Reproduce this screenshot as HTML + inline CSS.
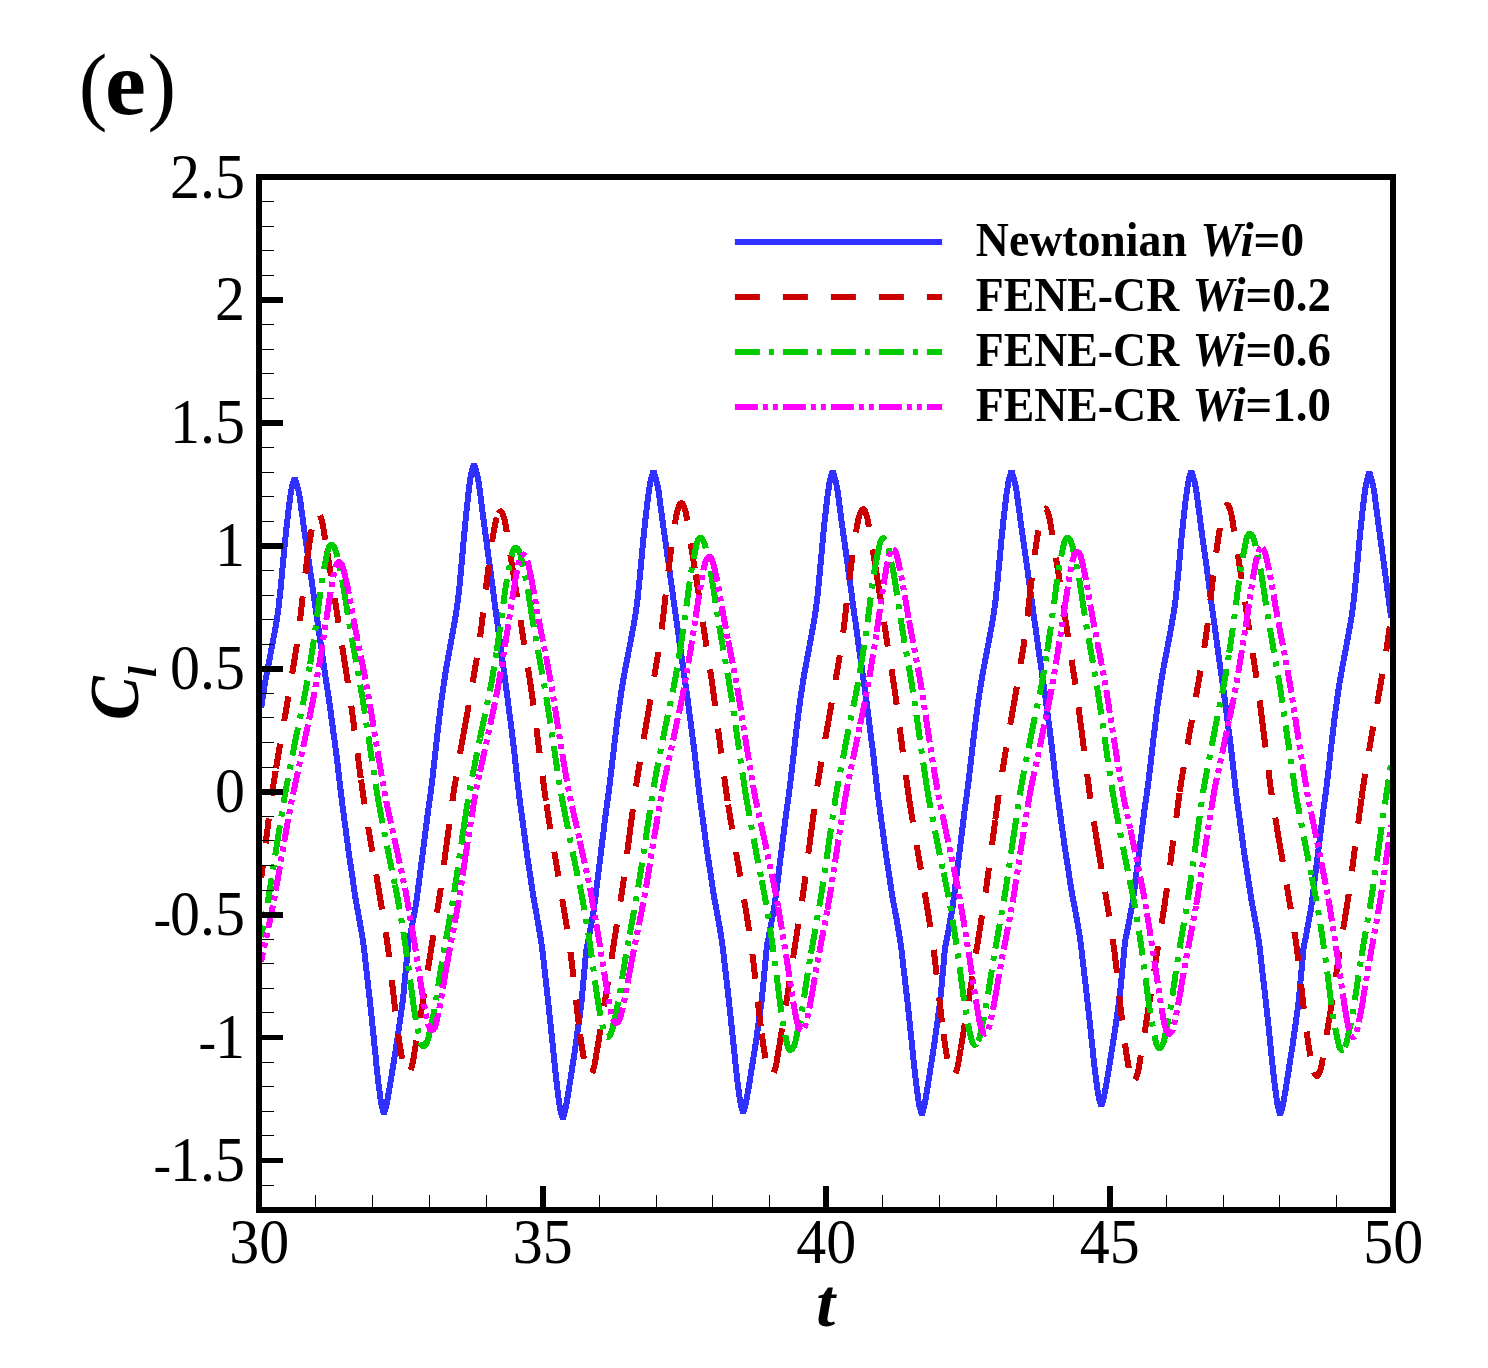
<!DOCTYPE html>
<html lang="en"><head><meta charset="utf-8"><title>(e) Cl vs t</title>
<style>html,body{margin:0;padding:0;background:#fff}svg{display:block}text{font-family:"Liberation Serif","Times New Roman",Times,serif;fill:#000}.tk{font-size:60px}.lg{font-size:47.5px;font-weight:bold}.bi{font-weight:bold;font-style:italic}</style></head><body>
<svg width="1488" height="1368" viewBox="0 0 1488 1368">
<rect width="1488" height="1368" fill="#fff"/>
<clipPath id="c"><rect x="259.2" y="177.1" width="1134.0" height="1032.7"/></clipPath>
<g clip-path="url(#c)" fill="none" stroke-linejoin="round" shape-rendering="crispEdges">
<path d="M261.2,708.1 L261.5,705.8 L262.3,700.2 L263.1,694.7 L264.0,689.4 L264.8,684.4 L265.6,679.6 L266.5,675.1 L267.3,670.7 L268.1,666.4 L269.0,662.2 L269.8,657.9 L270.6,653.6 L271.4,649.2 L272.3,644.8 L273.1,640.4 L273.9,636.0 L274.8,631.5 L275.6,626.9 L276.4,622.1 L277.2,616.9 L278.1,611.0 L278.9,604.5 L279.7,596.9 L280.6,588.7 L281.4,580.3 L282.2,571.5 L283.0,562.7 L283.9,553.8 L284.7,545.2 L285.5,536.8 L286.4,528.8 L287.2,521.4 L288.0,514.3 L288.8,507.5 L289.7,501.1 L290.5,495.3 L291.3,489.9 L292.2,486.0 L293.0,483.3 L293.8,480.6 L294.7,477.9 L295.5,480.6 L296.3,483.3 L297.2,486.0 L298.0,489.1 L298.9,492.6 L299.7,497.2 L300.6,503.3 L301.4,509.6 L302.3,515.6 L303.1,521.7 L303.9,527.7 L304.8,533.7 L305.6,539.5 L306.5,545.2 L307.3,551.0 L308.2,556.7 L309.0,562.5 L309.9,568.3 L310.7,574.1 L311.6,580.1 L312.4,586.0 L313.2,592.0 L314.1,598.0 L314.9,603.9 L315.8,609.9 L316.6,615.7 L317.5,621.5 L318.3,627.3 L319.2,633.2 L320.0,639.0 L320.9,644.8 L321.7,650.6 L322.5,656.4 L323.4,662.2 L324.2,667.9 L325.1,673.7 L325.9,679.4 L326.8,685.1 L327.6,690.8 L328.5,696.5 L329.3,702.2 L330.2,708.2 L331.0,714.4 L331.8,720.7 L332.7,727.0 L333.5,733.3 L334.4,739.5 L335.2,745.8 L336.1,752.3 L336.9,758.9 L337.8,766.0 L338.6,773.2 L339.4,780.4 L340.3,787.5 L341.1,794.1 L341.9,800.5 L342.6,806.5 L343.4,812.1 L344.1,817.7 L344.9,823.5 L345.7,829.3 L346.4,835.1 L347.2,840.9 L348.0,846.7 L348.7,852.4 L349.5,857.8 L350.3,862.8 L351.0,867.9 L351.8,873.0 L352.6,878.1 L353.3,883.4 L354.1,888.7 L354.8,893.9 L355.6,898.9 L356.4,903.4 L357.1,907.5 L357.9,911.6 L358.7,915.8 L359.4,920.1 L360.2,924.5 L361.0,929.0 L361.7,933.5 L362.5,938.1 L363.3,943.2 L364.0,948.7 L364.8,955.0 L365.5,962.1 L366.3,969.2 L367.1,976.0 L367.8,982.7 L368.6,989.5 L369.4,996.4 L370.1,1003.4 L370.9,1010.7 L371.7,1017.9 L372.4,1025.1 L373.2,1032.5 L374.0,1040.0 L374.7,1047.6 L375.5,1055.3 L376.2,1062.9 L377.0,1070.3 L377.8,1077.3 L378.5,1083.7 L379.3,1089.7 L380.1,1095.5 L380.8,1101.0 L381.6,1105.3 L382.4,1108.3 L383.1,1111.0 L383.9,1113.7 L384.7,1111.0 L385.5,1108.3 L386.3,1105.4 L387.1,1101.7 L387.9,1097.3 L388.7,1092.7 L389.5,1088.2 L390.3,1083.4 L391.1,1078.5 L391.9,1073.5 L392.7,1068.5 L393.5,1063.4 L394.3,1058.4 L395.1,1053.5 L395.9,1048.4 L396.7,1043.4 L397.5,1038.2 L398.3,1032.7 L399.1,1027.0 L399.9,1021.4 L400.7,1015.8 L401.5,1010.1 L402.3,1004.4 L403.1,997.8 L403.9,989.9 L404.7,981.6 L405.5,973.3 L406.3,964.9 L407.1,956.1 L407.9,947.4 L408.7,941.9 L409.5,938.3 L410.3,934.7 L411.1,930.7 L411.9,926.5 L412.7,922.0 L413.5,917.5 L414.3,913.4 L415.1,909.5 L415.9,904.8 L416.7,899.2 L417.5,893.2 L418.3,886.9 L419.2,880.6 L420.0,874.4 L420.8,868.1 L421.6,861.8 L422.4,855.6 L423.2,849.3 L424.0,843.0 L424.8,836.8 L425.6,830.6 L426.4,824.3 L427.2,817.9 L428.0,811.4 L428.8,805.6 L429.6,800.1 L430.4,794.5 L431.2,788.7 L432.0,782.5 L432.8,775.8 L433.5,768.7 L434.3,761.6 L435.1,754.5 L435.9,747.3 L436.7,740.2 L437.5,733.2 L438.3,726.4 L439.1,719.6 L439.9,712.9 L440.7,706.4 L441.5,700.3 L442.3,694.6 L443.1,688.9 L443.9,683.3 L444.7,678.1 L445.4,673.1 L446.2,668.3 L447.0,663.8 L447.8,659.4 L448.6,655.0 L449.4,650.8 L450.2,646.4 L451.0,642.0 L451.8,637.6 L452.6,633.1 L453.4,628.6 L454.2,624.2 L455.0,619.6 L455.8,614.9 L456.5,610.0 L457.3,604.5 L458.1,598.5 L458.9,591.7 L459.7,583.9 L460.5,575.5 L461.3,566.9 L462.1,558.0 L462.9,549.1 L463.7,540.1 L464.5,531.4 L465.3,522.9 L466.1,514.9 L466.9,507.4 L467.7,500.2 L468.4,493.4 L469.2,486.9 L470.0,481.0 L470.8,475.6 L471.6,471.7 L472.4,469.0 L473.2,466.2 L474.0,463.5 L474.8,466.3 L475.6,469.1 L476.4,471.9 L477.2,475.0 L478.0,478.7 L478.8,483.4 L479.7,489.7 L480.5,496.1 L481.3,502.4 L482.1,508.6 L482.9,514.8 L483.7,521.0 L484.5,527.0 L485.3,532.9 L486.1,538.8 L486.9,544.8 L487.7,550.7 L488.5,556.7 L489.3,562.7 L490.2,568.8 L491.0,575.0 L491.8,581.1 L492.6,587.3 L493.4,593.4 L494.2,599.5 L495.0,605.6 L495.8,611.6 L496.6,617.5 L497.4,623.5 L498.2,629.5 L499.0,635.6 L499.9,641.5 L500.7,647.5 L501.5,653.5 L502.3,659.4 L503.1,665.3 L503.9,671.2 L504.7,677.1 L505.5,683.0 L506.3,688.8 L507.1,694.7 L507.9,700.9 L508.7,707.3 L509.5,713.8 L510.4,720.3 L511.2,726.7 L512.0,733.1 L512.8,739.7 L513.6,746.3 L514.4,753.2 L515.2,760.5 L516.0,767.9 L516.8,775.3 L517.6,782.6 L518.4,789.5 L519.2,796.0 L520.0,802.2 L520.8,808.0 L521.6,813.8 L522.4,819.7 L523.2,825.7 L524.0,831.7 L524.8,837.7 L525.6,843.7 L526.4,849.6 L527.1,855.1 L527.9,860.3 L528.7,865.5 L529.5,870.8 L530.3,876.1 L531.1,881.5 L531.9,887.0 L532.7,892.3 L533.5,897.5 L534.3,902.1 L535.1,906.3 L535.9,910.6 L536.7,914.9 L537.4,919.3 L538.2,923.9 L539.0,928.5 L539.8,933.1 L540.6,937.9 L541.4,943.1 L542.2,948.8 L543.0,955.3 L543.8,962.7 L544.6,969.9 L545.4,976.9 L546.2,983.9 L547.0,990.9 L547.7,998.0 L548.5,1005.2 L549.3,1012.7 L550.1,1020.1 L550.9,1027.6 L551.7,1035.2 L552.5,1042.9 L553.3,1050.8 L554.1,1058.7 L554.9,1066.5 L555.7,1074.1 L556.5,1081.4 L557.3,1088.0 L558.0,1094.2 L558.8,1100.1 L559.6,1105.8 L560.4,1110.2 L561.2,1113.3 L562.0,1116.1 L562.8,1118.9 L563.6,1116.2 L564.3,1113.5 L565.1,1110.6 L565.9,1107.0 L566.7,1102.5 L567.4,1098.0 L568.2,1093.4 L569.0,1088.7 L569.7,1083.8 L570.5,1078.8 L571.3,1073.8 L572.0,1068.8 L572.8,1063.8 L573.6,1058.9 L574.4,1053.9 L575.1,1048.9 L575.9,1043.7 L576.7,1038.2 L577.4,1032.5 L578.2,1026.9 L579.0,1021.3 L579.8,1015.7 L580.5,1010.0 L581.3,1003.4 L582.1,995.6 L582.8,987.2 L583.6,979.0 L584.4,970.6 L585.2,961.8 L585.9,953.2 L586.7,947.7 L587.5,944.1 L588.2,940.5 L589.0,936.5 L589.8,932.4 L590.5,927.9 L591.3,923.3 L592.1,919.3 L592.9,915.4 L593.6,910.8 L594.4,905.1 L595.2,899.1 L595.9,892.9 L596.7,886.6 L597.5,880.4 L598.3,874.1 L599.0,867.9 L599.8,861.7 L600.6,855.4 L601.3,849.2 L602.1,842.9 L602.9,836.7 L603.7,830.5 L604.4,824.1 L605.2,817.6 L606.0,811.8 L606.7,806.4 L607.5,800.8 L608.3,795.0 L609.1,788.8 L609.9,782.1 L610.7,775.1 L611.6,768.0 L612.4,760.9 L613.3,753.8 L614.1,746.7 L614.9,739.7 L615.8,732.9 L616.6,726.1 L617.4,719.5 L618.3,713.0 L619.1,706.9 L620.0,701.2 L620.8,695.5 L621.6,690.0 L622.5,684.7 L623.3,679.8 L624.2,675.0 L625.0,670.5 L625.8,666.1 L626.7,661.8 L627.5,657.5 L628.3,653.2 L629.2,648.8 L630.0,644.4 L630.9,640.0 L631.7,635.5 L632.5,631.0 L633.4,626.5 L634.2,621.8 L635.1,616.9 L635.9,611.5 L636.7,605.4 L637.6,598.7 L638.4,590.9 L639.3,582.5 L640.1,574.0 L640.9,565.1 L641.8,556.2 L642.6,547.3 L643.4,538.6 L644.3,530.1 L645.1,522.1 L646.0,514.6 L646.8,507.5 L647.6,500.7 L648.5,494.3 L649.3,488.4 L650.2,483.0 L651.0,479.1 L651.8,476.3 L652.7,473.6 L653.5,470.9 L654.3,473.6 L655.2,476.4 L656.0,479.1 L656.8,482.2 L657.6,485.8 L658.5,490.4 L659.3,496.6 L660.1,502.9 L660.9,509.0 L661.8,515.1 L662.6,521.2 L663.4,527.2 L664.2,533.1 L665.1,538.9 L665.9,544.7 L666.7,550.5 L667.5,556.3 L668.4,562.2 L669.2,568.1 L670.0,574.1 L670.8,580.1 L671.7,586.1 L672.5,592.2 L673.3,598.2 L674.1,604.2 L675.0,610.1 L675.8,616.0 L676.6,621.8 L677.5,627.7 L678.3,633.6 L679.1,639.5 L679.9,645.3 L680.8,651.2 L681.6,657.0 L682.4,662.8 L683.2,668.6 L684.1,674.4 L684.9,680.2 L685.7,685.9 L686.5,691.6 L687.4,697.4 L688.2,703.5 L689.0,709.8 L689.8,716.1 L690.7,722.5 L691.5,728.8 L692.3,735.1 L693.1,741.5 L694.0,748.0 L694.8,754.7 L695.6,761.9 L696.4,769.2 L697.3,776.4 L698.1,783.5 L698.9,790.3 L699.7,796.7 L700.5,802.7 L701.3,808.4 L702.1,814.1 L702.9,819.9 L703.7,825.8 L704.5,831.7 L705.2,837.5 L706.0,843.3 L706.8,849.1 L707.6,854.6 L708.4,859.6 L709.2,864.7 L710.0,869.9 L710.8,875.1 L711.6,880.4 L712.4,885.8 L713.1,891.0 L713.9,896.1 L714.7,900.6 L715.5,904.7 L716.3,908.9 L717.1,913.1 L717.9,917.5 L718.7,921.9 L719.5,926.4 L720.3,931.0 L721.0,935.7 L721.8,940.8 L722.6,946.4 L723.4,952.7 L724.2,959.9 L725.0,967.0 L725.8,973.9 L726.6,980.7 L727.4,987.6 L728.2,994.5 L729.0,1001.7 L729.7,1008.9 L730.5,1016.2 L731.3,1023.6 L732.1,1031.0 L732.9,1038.6 L733.7,1046.2 L734.5,1054.0 L735.3,1061.7 L736.1,1069.1 L736.9,1076.2 L737.6,1082.7 L738.4,1088.8 L739.2,1094.6 L740.0,1100.2 L740.8,1104.5 L741.6,1107.5 L742.4,1110.3 L743.2,1113.0 L744.0,1110.3 L744.8,1107.5 L745.6,1104.6 L746.3,1100.9 L747.1,1096.3 L747.9,1091.8 L748.7,1087.2 L749.5,1082.4 L750.3,1077.4 L751.1,1072.4 L751.9,1067.3 L752.7,1062.3 L753.5,1057.3 L754.3,1052.3 L755.1,1047.2 L755.9,1042.1 L756.7,1036.8 L757.4,1031.2 L758.2,1025.5 L759.0,1019.9 L759.8,1014.2 L760.6,1008.5 L761.4,1002.5 L762.2,995.3 L763.0,987.1 L763.8,978.7 L764.6,970.3 L765.4,961.8 L766.2,952.7 L767.0,945.4 L767.8,941.3 L768.5,937.9 L769.3,933.9 L770.1,929.8 L770.9,925.4 L771.7,920.8 L772.5,916.5 L773.3,912.6 L774.1,908.2 L774.9,902.8 L775.7,896.8 L776.5,890.6 L777.3,884.2 L778.1,877.9 L778.9,871.6 L779.6,865.3 L780.4,859.1 L781.2,852.8 L782.0,846.4 L782.8,840.1 L783.6,833.9 L784.4,827.6 L785.2,821.1 L786.0,814.6 L786.8,808.7 L787.6,803.3 L788.4,797.6 L789.2,791.8 L790.0,785.5 L790.8,778.7 L791.6,771.6 L792.4,764.5 L793.3,757.3 L794.1,750.1 L794.9,743.0 L795.7,736.0 L796.5,729.1 L797.4,722.3 L798.2,715.6 L799.0,709.2 L799.8,703.2 L800.6,697.4 L801.5,691.7 L802.3,686.2 L803.1,681.0 L803.9,676.1 L804.7,671.4 L805.6,666.9 L806.4,662.5 L807.2,658.2 L808.0,653.9 L808.9,649.5 L809.7,645.0 L810.5,640.6 L811.3,636.1 L812.1,631.6 L813.0,627.0 L813.8,622.3 L814.6,617.5 L815.4,612.3 L816.2,606.4 L817.1,599.9 L817.9,592.4 L818.7,584.1 L819.5,575.5 L820.3,566.6 L821.2,557.7 L822.0,548.6 L822.8,539.8 L823.6,531.2 L824.4,523.0 L825.3,515.4 L826.1,508.2 L826.9,501.3 L827.7,494.7 L828.6,488.7 L829.4,483.2 L830.2,479.2 L831.0,476.4 L831.8,473.6 L832.7,470.9 L833.5,473.7 L834.3,476.4 L835.1,479.1 L835.9,482.2 L836.7,485.8 L837.5,490.4 L838.4,496.6 L839.2,503.0 L840.0,509.1 L840.8,515.2 L841.6,521.3 L842.4,527.4 L843.2,533.3 L844.1,539.1 L844.9,544.9 L845.7,550.7 L846.5,556.6 L847.3,562.4 L848.1,568.4 L848.9,574.4 L849.8,580.4 L850.6,586.5 L851.4,592.5 L852.2,598.5 L853.0,604.5 L853.8,610.5 L854.6,616.4 L855.5,622.2 L856.3,628.1 L857.1,634.0 L857.9,639.9 L858.7,645.8 L859.5,651.7 L860.3,657.5 L861.2,663.4 L862.0,669.1 L862.8,674.9 L863.6,680.7 L864.4,686.5 L865.2,692.2 L866.0,698.1 L866.9,704.2 L867.7,710.4 L868.5,716.8 L869.3,723.2 L870.1,729.5 L870.9,735.8 L871.7,742.2 L872.6,748.8 L873.4,755.5 L874.2,762.7 L875.0,770.0 L875.8,777.2 L876.6,784.4 L877.4,791.2 L878.2,797.6 L879.0,803.6 L879.8,809.3 L880.6,815.0 L881.4,820.9 L882.2,826.8 L883.0,832.7 L883.8,838.5 L884.6,844.4 L885.4,850.2 L886.2,855.6 L886.9,860.7 L887.7,865.8 L888.5,871.0 L889.3,876.2 L890.1,881.6 L890.9,886.9 L891.7,892.2 L892.5,897.2 L893.3,901.8 L894.1,905.9 L894.9,910.1 L895.7,914.4 L896.5,918.7 L897.3,923.2 L898.0,927.7 L898.8,932.3 L899.6,937.0 L900.4,942.1 L901.2,947.7 L902.0,954.1 L902.8,961.3 L903.6,968.4 L904.4,975.3 L905.2,982.2 L906.0,989.0 L906.8,996.0 L907.6,1003.1 L908.4,1010.4 L909.2,1017.8 L909.9,1025.1 L910.7,1032.6 L911.5,1040.2 L912.3,1047.9 L913.1,1055.7 L913.9,1063.3 L914.7,1070.8 L915.5,1077.9 L916.3,1084.4 L917.1,1090.5 L917.9,1096.3 L918.7,1102.0 L919.5,1106.3 L920.3,1109.3 L921.0,1112.0 L921.8,1114.8 L922.6,1112.1 L923.4,1109.4 L924.2,1106.5 L924.9,1102.8 L925.7,1098.3 L926.5,1093.8 L927.2,1089.2 L928.0,1084.5 L928.8,1079.5 L929.6,1074.5 L930.3,1069.5 L931.1,1064.5 L931.9,1059.5 L932.7,1054.5 L933.4,1049.5 L934.2,1044.5 L935.0,1039.2 L935.7,1033.7 L936.5,1028.0 L937.3,1022.4 L938.1,1016.8 L938.8,1011.1 L939.6,1005.3 L940.4,998.5 L941.2,990.4 L941.9,982.1 L942.7,973.8 L943.5,965.4 L944.2,956.4 L945.0,948.3 L945.8,943.6 L946.6,940.2 L947.3,936.4 L948.1,932.3 L948.9,928.1 L949.7,923.5 L950.4,919.1 L951.2,915.2 L952.0,911.1 L952.7,906.0 L953.5,900.2 L954.3,894.1 L955.1,887.8 L955.8,881.5 L956.6,875.3 L957.4,869.0 L958.2,862.8 L958.9,856.5 L959.7,850.3 L960.5,844.0 L961.2,837.8 L962.0,831.6 L962.8,825.2 L963.6,818.7 L964.3,812.5 L965.1,806.9 L965.9,801.5 L966.7,795.7 L967.4,789.8 L968.3,783.3 L969.1,776.3 L969.9,769.3 L970.8,762.2 L971.6,755.0 L972.4,747.9 L973.2,740.8 L974.1,733.9 L974.9,727.1 L975.7,720.4 L976.6,713.8 L977.4,707.6 L978.2,701.7 L979.1,696.1 L979.9,690.4 L980.7,685.1 L981.6,680.0 L982.4,675.2 L983.2,670.6 L984.1,666.1 L984.9,661.8 L985.7,657.5 L986.6,653.2 L987.4,648.8 L988.2,644.4 L989.1,639.9 L989.9,635.5 L990.7,631.0 L991.6,626.5 L992.4,621.8 L993.2,616.9 L994.0,611.6 L994.9,605.7 L995.7,599.1 L996.5,591.4 L997.4,583.1 L998.2,574.6 L999.0,565.7 L999.9,556.8 L1000.7,547.8 L1001.5,539.1 L1002.4,530.6 L1003.2,522.5 L1004.0,514.9 L1004.9,507.8 L1005.7,500.9 L1006.5,494.4 L1007.4,488.5 L1008.2,483.1 L1009.0,479.1 L1009.9,476.4 L1010.7,473.6 L1011.5,470.9 L1012.3,473.6 L1013.2,476.3 L1014.0,479.0 L1014.8,482.1 L1015.6,485.6 L1016.4,490.2 L1017.2,496.3 L1018.1,502.6 L1018.9,508.6 L1019.7,514.7 L1020.5,520.7 L1021.3,526.6 L1022.2,532.5 L1023.0,538.2 L1023.8,544.0 L1024.6,549.7 L1025.4,555.5 L1026.3,561.3 L1027.1,567.1 L1027.9,573.1 L1028.7,579.0 L1029.5,585.0 L1030.3,590.9 L1031.2,596.9 L1032.0,602.8 L1032.8,608.7 L1033.6,614.5 L1034.4,620.3 L1035.3,626.1 L1036.1,632.0 L1036.9,637.8 L1037.7,643.6 L1038.5,649.4 L1039.3,655.2 L1040.2,660.9 L1041.0,666.6 L1041.8,672.3 L1042.6,678.1 L1043.4,683.8 L1044.3,689.4 L1045.1,695.2 L1045.9,701.2 L1046.7,707.4 L1047.5,713.6 L1048.4,720.0 L1049.2,726.2 L1050.0,732.4 L1050.8,738.8 L1051.6,745.2 L1052.4,751.9 L1053.3,759.0 L1054.1,766.2 L1054.9,773.3 L1055.7,780.4 L1056.5,787.1 L1057.3,793.4 L1058.1,799.4 L1058.9,805.0 L1059.7,810.6 L1060.5,816.4 L1061.3,822.3 L1062.1,828.1 L1062.9,833.8 L1063.7,839.6 L1064.5,845.4 L1065.3,850.7 L1066.1,855.8 L1066.9,860.8 L1067.7,865.9 L1068.5,871.1 L1069.3,876.4 L1070.1,881.6 L1070.9,886.8 L1071.7,891.8 L1072.5,896.3 L1073.3,900.4 L1074.1,904.5 L1074.9,908.7 L1075.7,913.0 L1076.5,917.4 L1077.3,921.9 L1078.1,926.4 L1078.9,931.0 L1079.7,936.1 L1080.5,941.7 L1081.3,947.9 L1082.1,955.1 L1082.9,962.1 L1083.7,968.9 L1084.5,975.7 L1085.3,982.4 L1086.1,989.3 L1086.9,996.4 L1087.7,1003.6 L1088.5,1010.8 L1089.3,1018.0 L1090.1,1025.4 L1090.9,1032.9 L1091.7,1040.5 L1092.5,1048.2 L1093.3,1055.8 L1094.1,1063.2 L1094.9,1070.2 L1095.7,1076.6 L1096.5,1082.6 L1097.3,1088.4 L1098.1,1093.9 L1098.9,1098.2 L1099.7,1101.2 L1100.5,1103.9 L1101.3,1106.6 L1102.1,1103.9 L1102.9,1101.2 L1103.6,1098.4 L1104.4,1094.7 L1105.2,1090.3 L1106.0,1085.8 L1106.8,1081.3 L1107.6,1076.7 L1108.4,1071.8 L1109.2,1066.8 L1110.0,1061.9 L1110.8,1056.9 L1111.5,1052.0 L1112.3,1047.1 L1113.1,1042.1 L1113.9,1037.2 L1114.7,1032.0 L1115.5,1026.5 L1116.3,1020.9 L1117.1,1015.4 L1117.9,1009.8 L1118.7,1004.2 L1119.4,998.5 L1120.2,991.8 L1121.0,983.8 L1121.8,975.6 L1122.6,967.4 L1123.4,959.1 L1124.2,950.2 L1125.0,942.2 L1125.8,937.6 L1126.6,934.2 L1127.3,930.5 L1128.1,926.5 L1128.9,922.3 L1129.7,917.8 L1130.5,913.4 L1131.3,909.5 L1132.1,905.5 L1132.9,900.5 L1133.7,894.7 L1134.5,888.7 L1135.2,882.5 L1136.0,876.3 L1136.8,870.1 L1137.6,864.0 L1138.4,857.8 L1139.2,851.6 L1140.0,845.4 L1140.8,839.2 L1141.6,833.1 L1142.3,827.0 L1143.1,820.7 L1143.9,814.3 L1144.7,808.1 L1145.5,802.7 L1146.3,797.3 L1147.1,791.6 L1147.9,785.7 L1148.7,779.3 L1149.5,772.5 L1150.4,765.5 L1151.2,758.4 L1152.0,751.4 L1152.8,744.4 L1153.6,737.4 L1154.5,730.6 L1155.3,723.9 L1156.1,717.2 L1156.9,710.7 L1157.7,704.6 L1158.6,698.8 L1159.4,693.2 L1160.2,687.7 L1161.0,682.3 L1161.9,677.3 L1162.7,672.6 L1163.5,668.0 L1164.3,663.6 L1165.1,659.3 L1166.0,655.1 L1166.8,650.9 L1167.6,646.5 L1168.4,642.2 L1169.2,637.8 L1170.1,633.4 L1170.9,629.0 L1171.7,624.5 L1172.5,619.8 L1173.3,615.1 L1174.2,609.8 L1175.0,604.0 L1175.8,597.4 L1176.6,589.9 L1177.4,581.7 L1178.3,573.2 L1179.1,564.5 L1179.9,555.7 L1180.7,546.8 L1181.5,538.2 L1182.4,529.8 L1183.2,521.8 L1184.0,514.4 L1184.8,507.3 L1185.6,500.5 L1186.5,494.1 L1187.3,488.3 L1188.1,482.9 L1188.9,479.0 L1189.7,476.3 L1190.6,473.6 L1191.4,470.9 L1192.2,473.7 L1193.0,476.4 L1193.8,479.1 L1194.6,482.2 L1195.4,485.8 L1196.2,490.4 L1197.1,496.6 L1197.9,503.0 L1198.7,509.1 L1199.5,515.2 L1200.3,521.3 L1201.1,527.4 L1201.9,533.3 L1202.7,539.1 L1203.5,544.9 L1204.3,550.7 L1205.2,556.6 L1206.0,562.4 L1206.8,568.4 L1207.6,574.4 L1208.4,580.4 L1209.2,586.5 L1210.0,592.5 L1210.8,598.5 L1211.6,604.5 L1212.4,610.5 L1213.3,616.4 L1214.1,622.2 L1214.9,628.1 L1215.7,634.0 L1216.5,639.9 L1217.3,645.8 L1218.1,651.7 L1218.9,657.5 L1219.7,663.4 L1220.5,669.1 L1221.4,674.9 L1222.2,680.7 L1223.0,686.5 L1223.8,692.2 L1224.6,698.1 L1225.4,704.2 L1226.2,710.4 L1227.0,716.8 L1227.8,723.2 L1228.6,729.5 L1229.5,735.8 L1230.3,742.2 L1231.1,748.8 L1231.9,755.5 L1232.7,762.7 L1233.5,770.0 L1234.3,777.2 L1235.1,784.4 L1235.9,791.2 L1236.7,797.6 L1237.5,803.6 L1238.3,809.3 L1239.1,815.0 L1239.9,820.9 L1240.7,826.8 L1241.5,832.7 L1242.3,838.5 L1243.0,844.4 L1243.8,850.2 L1244.6,855.6 L1245.4,860.7 L1246.2,865.8 L1247.0,871.0 L1247.8,876.2 L1248.6,881.6 L1249.4,886.9 L1250.2,892.2 L1251.0,897.2 L1251.7,901.8 L1252.5,905.9 L1253.3,910.1 L1254.1,914.4 L1254.9,918.7 L1255.7,923.2 L1256.5,927.7 L1257.3,932.3 L1258.1,937.0 L1258.9,942.1 L1259.7,947.7 L1260.4,954.1 L1261.2,961.3 L1262.0,968.4 L1262.8,975.3 L1263.6,982.2 L1264.4,989.0 L1265.2,996.0 L1266.0,1003.1 L1266.8,1010.4 L1267.6,1017.8 L1268.4,1025.1 L1269.2,1032.6 L1269.9,1040.2 L1270.7,1047.9 L1271.5,1055.7 L1272.3,1063.3 L1273.1,1070.8 L1273.9,1077.9 L1274.7,1084.4 L1275.5,1090.5 L1276.3,1096.3 L1277.1,1102.0 L1277.9,1106.3 L1278.6,1109.3 L1279.4,1112.0 L1280.2,1114.8 L1281.0,1112.1 L1281.8,1109.4 L1282.6,1106.5 L1283.3,1102.8 L1284.1,1098.3 L1284.9,1093.8 L1285.7,1089.3 L1286.4,1084.5 L1287.2,1079.6 L1288.0,1074.6 L1288.8,1069.6 L1289.5,1064.6 L1290.3,1059.6 L1291.1,1054.6 L1291.9,1049.6 L1292.7,1044.6 L1293.4,1039.4 L1294.2,1033.8 L1295.0,1028.1 L1295.8,1022.6 L1296.5,1016.9 L1297.3,1011.3 L1298.1,1005.5 L1298.9,998.7 L1299.6,990.6 L1300.4,982.3 L1301.2,974.0 L1302.0,965.6 L1302.8,956.6 L1303.5,948.5 L1304.3,943.8 L1305.1,940.5 L1305.9,936.7 L1306.6,932.6 L1307.4,928.4 L1308.2,923.8 L1309.0,919.4 L1309.7,915.5 L1310.5,911.4 L1311.3,906.4 L1312.1,900.5 L1312.9,894.5 L1313.6,888.2 L1314.4,881.9 L1315.2,875.7 L1316.0,869.4 L1316.7,863.2 L1317.5,856.9 L1318.3,850.7 L1319.1,844.4 L1319.8,838.2 L1320.6,832.0 L1321.4,825.7 L1322.2,819.2 L1323.0,813.0 L1323.7,807.4 L1324.5,802.0 L1325.3,796.2 L1326.1,790.3 L1326.9,783.8 L1327.7,776.9 L1328.5,769.8 L1329.3,762.7 L1330.1,755.6 L1331.0,748.4 L1331.8,741.4 L1332.6,734.5 L1333.4,727.7 L1334.2,721.0 L1335.0,714.4 L1335.9,708.2 L1336.7,702.4 L1337.5,696.7 L1338.3,691.1 L1339.1,685.7 L1339.9,680.7 L1340.8,675.9 L1341.6,671.3 L1342.4,666.8 L1343.2,662.5 L1344.0,658.2 L1344.8,653.9 L1345.7,649.5 L1346.5,645.1 L1347.3,640.7 L1348.1,636.2 L1348.9,631.7 L1349.7,627.2 L1350.6,622.5 L1351.4,617.7 L1352.2,612.4 L1353.0,606.5 L1353.8,599.9 L1354.6,592.2 L1355.4,583.9 L1356.3,575.4 L1357.1,566.6 L1357.9,557.7 L1358.7,548.7 L1359.5,540.0 L1360.3,531.5 L1361.2,523.4 L1362.0,515.8 L1362.8,508.7 L1363.6,501.9 L1364.4,495.4 L1365.2,489.5 L1366.1,484.1 L1366.9,480.1 L1367.7,477.4 L1368.5,474.6 L1369.3,471.9 L1370.1,474.6 L1370.9,477.4 L1371.7,480.0 L1372.5,483.1 L1373.3,486.6 L1374.1,491.1 L1374.9,497.2 L1375.7,503.5 L1376.5,509.6 L1377.3,515.6 L1378.1,521.7 L1378.9,527.6 L1379.7,533.5 L1380.5,539.3 L1381.3,545.0 L1382.1,550.8 L1382.9,556.6 L1383.7,562.4 L1384.5,568.2 L1385.3,574.1 L1386.1,580.1 L1386.9,586.1 L1387.7,592.1 L1388.5,598.0 L1389.3,604.0 L1390.1,609.9 L1390.9,615.7 L1391.2,618.0" stroke="#3030ff" stroke-width="6" stroke-linejoin="bevel"/>
<g stroke="#cc0000" stroke-width="6" stroke-dasharray="25 23">
<path d="M261.2,877.8 L261.6,875.2 L262.4,869.1 L263.1,863.0 L263.9,856.9 L264.7,850.8 L265.4,844.7 L266.2,838.7 L267.0,832.7 L267.8,826.7 L268.5,820.7 L269.3,814.7 L270.1,808.8 L270.8,802.8 L271.6,797.0 L272.4,791.5 L273.2,786.2 L274.0,781.0 L274.8,776.1 L275.6,771.1 L276.3,766.8" stroke-dashoffset="13.2"/>
<path d="M276.0,768.3 L276.4,766.3 L277.2,761.4 L278.0,756.6 L278.8,751.8 L279.6,747.2 L280.4,742.5 L281.2,738.0 L282.0,733.5 L282.8,729.0 L283.6,724.4 L284.4,719.8 L285.2,715.1 L286.0,710.5 L286.8,705.8 L287.6,701.1 L288.4,696.4 L289.2,691.7 L290.0,687.1 L290.7,682.4 L291.5,677.7 L292.3,673.0 L293.1,668.2 L293.3,667.2" stroke-dashoffset="0.0"/>
<path d="M293.1,668.7 L293.1,668.2 L293.9,663.4 L294.7,658.5 L295.5,653.4 L296.3,648.2 L297.1,642.7 L297.9,636.9 L298.7,630.8 L299.5,624.3 L300.3,617.6 L301.1,610.6 L301.9,603.6 L302.7,596.5 L303.5,589.5 L304.3,582.5 L305.1,575.8 L305.9,569.2 L306.7,562.9 L307.5,556.7 L308.1,552.4" stroke-dashoffset="0.0"/>
<path d="M307.9,554.2 L308.3,550.9 L309.1,545.4 L309.9,540.2 L310.7,535.4 L311.5,530.8 L312.3,526.2 L313.1,522.0 L313.9,519.0 L314.7,516.6 L315.5,514.6 L316.3,513.3 L317.1,512.5 L317.9,512.1 L318.7,512.6 L319.5,513.8 L320.3,515.7 L321.1,518.2 L322.0,521.1 L322.8,524.8 L323.6,529.7 L324.4,534.8 L325.2,539.5 L326.0,544.2 L326.8,549.1 L327.3,552.1" stroke-dashoffset="0.0"/>
<path d="M327.1,550.6 L327.6,554.1 L328.4,559.1 L329.2,564.1 L330.0,569.1 L330.8,574.1 L331.7,579.1 L332.5,584.1 L333.3,589.1 L334.1,594.3 L334.9,599.4 L335.7,604.6 L336.5,609.9 L337.3,615.2 L338.1,620.5 L338.9,625.7 L339.7,631.0 L340.5,636.3 L341.4,641.5 L342.2,646.7 L343.0,651.8 L343.8,656.9 L344.2,659.8" stroke-dashoffset="0.0"/>
<path d="M344.0,658.3 L344.6,661.9 L345.4,667.0 L346.2,672.0 L347.0,677.1 L347.8,682.2 L348.6,687.4 L349.4,692.8 L350.2,698.4 L351.0,704.2 L351.9,710.2 L352.7,716.4 L353.5,722.6 L354.3,728.8 L355.1,735.1 L355.9,741.2 L356.7,747.4 L357.5,753.5 L358.3,759.6 L359.1,765.7 L359.9,771.8 L360.7,777.8 L361.2,781.3" stroke-dashoffset="0.0"/>
<path d="M361.0,779.5 L361.6,783.9 L362.4,789.8 L363.2,795.4 L364.0,800.8 L364.8,806.1 L365.6,811.1 L366.4,816.1 L367.2,821.1 L368.0,826.0 L368.8,830.9 L369.6,835.7 L370.4,840.5 L371.2,845.2 L372.0,849.8 L372.8,854.4 L373.6,859.0 L374.4,863.7 L375.2,868.4 L376.0,873.1 L376.8,877.9 L377.5,882.6 L378.2,886.4" stroke-dashoffset="0.0"/>
<path d="M377.9,884.9 L378.3,887.4 L379.1,892.2 L379.9,896.9 L380.7,901.7 L381.5,906.4 L382.3,911.2 L383.1,916.0 L383.9,920.9 L384.7,925.9 L385.5,931.0 L386.3,936.2 L387.1,941.6 L387.9,947.4 L388.7,953.4 L389.5,959.8 L390.3,966.7 L391.1,973.6 L391.9,980.8 L392.7,988.0 L392.8,988.8" stroke-dashoffset="0.0"/>
<path d="M392.6,986.5 L392.7,988.0 L393.5,995.2 L394.3,1002.3 L395.1,1009.2 L395.9,1016.0 L396.7,1022.5 L397.5,1028.8 L398.3,1034.7 L399.1,1040.5 L399.9,1045.8 L400.7,1050.8 L401.5,1055.4 L402.3,1060.1 L403.1,1064.5 L403.9,1067.7 L404.7,1070.1 L405.5,1072.2 L406.3,1073.6 L407.1,1074.4 L407.9,1074.8 L408.7,1074.3 L409.5,1073.2 L410.3,1071.4 L411.1,1069.0 L411.9,1066.3 L412.4,1064.1" stroke-dashoffset="0.0"/>
<path d="M412.1,1065.2 L412.7,1062.9 L413.5,1058.4 L414.3,1053.4 L415.1,1048.9 L415.8,1044.3 L416.6,1039.6 L417.4,1034.8 L418.2,1030.0 L419.0,1025.2 L419.8,1020.3 L420.6,1015.5 L421.4,1010.6 L422.2,1005.8 L423.0,1001.0 L423.8,996.1 L424.5,991.1 L425.3,986.1 L426.1,981.0 L426.9,975.9 L427.7,970.9 L428.5,965.7 L429.3,960.6 L429.6,958.4" stroke-dashoffset="0.0"/>
<path d="M429.4,960.0 L430.1,955.5 L430.9,950.4 L431.7,945.4 L432.5,940.4 L433.3,935.4 L434.0,930.5 L434.8,925.6 L435.6,920.8 L436.4,915.9 L437.2,911.0 L438.0,906.1 L438.8,901.0 L439.6,895.9 L440.4,890.6 L441.2,885.0 L442.0,879.3 L442.8,873.4 L443.5,867.4 L444.3,861.4 L445.1,855.4 L445.9,849.4 L446.2,846.9" stroke-dashoffset="0.0"/>
<path d="M446.0,848.8 L446.7,843.4 L447.5,837.5 L448.3,831.6 L449.1,825.7 L449.9,819.8 L450.7,813.9 L451.5,808.1 L452.3,802.2 L453.0,796.6 L453.8,791.1 L454.6,785.8 L455.5,780.8 L456.3,775.9 L457.1,771.0 L457.9,766.2 L458.7,761.5 L459.5,756.7 L460.3,752.0 L461.1,747.4 L461.9,742.9 L462.7,738.4 L463.5,734.0 L464.3,729.5 L464.6,728.3" stroke-dashoffset="0.0"/>
<path d="M464.3,729.7 L464.3,729.5 L465.1,725.0 L466.0,720.5 L466.8,715.9 L467.6,711.3 L468.4,706.7 L469.2,702.1 L470.0,697.5 L470.8,692.9 L471.6,688.3 L472.4,683.7 L473.2,679.1 L474.0,674.5 L474.8,669.8 L475.6,665.1 L476.5,660.3 L477.3,655.3 L478.1,650.3 L478.9,645.1 L479.7,639.5 L480.2,635.5" stroke-dashoffset="0.0"/>
<path d="M480.0,637.3 L480.5,633.7 L481.3,627.6 L482.1,621.0 L482.9,614.3 L483.7,607.4 L484.5,600.4 L485.3,593.5 L486.1,586.6 L487.0,579.8 L487.8,573.2 L488.6,566.8 L489.4,560.6 L490.2,554.7 L491.0,549.0 L491.8,543.6 L492.6,538.6 L493.4,533.9 L494.2,529.4 L495.0,524.9 L495.8,520.9 L496.6,518.0 L497.5,515.7 L498.3,513.8 L498.8,512.9" stroke-dashoffset="0.0"/>
<path d="M498.5,513.3 L499.1,512.4 L499.9,511.7 L500.7,511.3 L501.5,511.8 L502.3,513.0 L503.1,515.0 L503.9,517.5 L504.7,520.5 L505.5,524.3 L506.3,529.3 L507.1,534.4 L507.9,539.2 L508.7,544.0 L509.5,548.9 L510.3,554.0 L511.1,559.1 L511.9,564.2 L512.7,569.2 L513.5,574.2" stroke-dashoffset="0.0"/>
<path d="M513.2,572.6 L513.5,574.3 L514.3,579.3 L515.1,584.4 L515.9,589.5 L516.7,594.7 L517.5,600.0 L518.3,605.3 L519.1,610.6 L519.9,615.9 L520.7,621.3 L521.5,626.7 L522.3,632.0 L523.1,637.3 L523.9,642.6 L524.7,647.9 L525.5,653.0 L526.4,658.1 L527.2,663.2 L528.0,668.3 L528.8,673.5 L529.6,678.6 L530.1,682.3" stroke-dashoffset="0.0"/>
<path d="M529.9,680.7 L530.4,683.9 L531.2,689.2 L532.0,694.7 L532.8,700.5 L533.6,706.4 L534.4,712.6 L535.2,718.8 L536.0,725.1 L536.8,731.5 L537.6,737.7 L538.4,744.0 L539.2,750.2 L540.0,756.4 L540.8,762.5 L541.6,768.7 L542.4,774.9 L543.2,781.0 L544.0,787.1 L544.8,792.9 L545.6,798.5 L546.4,803.9 L546.8,806.1" stroke-dashoffset="0.0"/>
<path d="M546.5,804.5 L547.2,809.1 L548.0,814.2 L548.8,819.3 L549.6,824.3 L550.4,829.2 L551.2,834.2 L552.1,839.0 L552.9,843.8 L553.7,848.5 L554.5,853.1 L555.3,857.8 L556.1,862.5 L556.9,867.3 L557.7,872.1 L558.5,876.9 L559.3,881.7 L560.1,886.5 L560.9,891.4 L561.7,896.2 L562.5,901.0 L563.3,905.8 L563.4,906.0" stroke-dashoffset="0.0"/>
<path d="M563.1,904.5 L563.3,905.8 L564.1,910.6 L564.9,915.5 L565.8,920.4 L566.6,925.4 L567.4,930.6 L568.2,935.8 L569.0,941.3 L569.8,947.0 L570.6,953.1 L571.4,959.5 L572.2,966.3 L573.0,973.4 L573.8,980.6 L574.6,987.9 L575.4,995.2 L576.2,1002.4 L577.0,1009.4 L577.8,1016.3 L578.6,1023.0 L579.4,1029.3 L580.3,1035.4 L580.3,1036.0" stroke-dashoffset="0.0"/>
<path d="M580.1,1034.1 L580.3,1035.4 L581.1,1041.3 L581.9,1046.8 L582.7,1051.8 L583.5,1056.5 L584.3,1061.2 L585.1,1065.7 L585.9,1069.0 L586.7,1071.5 L587.5,1073.6 L588.3,1075.1 L589.1,1075.9 L589.9,1076.3 L590.7,1075.8 L591.5,1074.7 L592.3,1072.7 L593.1,1070.2 L594.0,1067.4 L594.8,1063.8 L595.6,1059.0 L596.4,1053.9 L596.6,1052.4" stroke-dashoffset="0.0"/>
<path d="M596.4,1053.8 L597.2,1049.2 L598.0,1044.5 L598.8,1039.6 L599.6,1034.6 L600.4,1029.6 L601.2,1024.6 L602.0,1019.5 L602.8,1014.6 L603.6,1009.6 L604.4,1004.5 L605.2,999.5 L606.0,994.4 L606.8,989.3 L607.6,984.1 L608.5,978.8 L609.3,973.5 L610.1,968.2 L610.9,963.0 L611.7,957.7 L612.5,952.4 L613.2,947.4" stroke-dashoffset="0.0"/>
<path d="M613.0,949.0 L613.3,947.1 L614.1,941.9 L614.9,936.7 L615.7,931.7 L616.5,926.6 L617.3,921.6 L618.1,916.5 L618.9,911.5 L619.7,906.4 L620.5,901.2 L621.3,895.9 L622.1,890.5 L623.0,884.8 L623.8,878.9 L624.6,872.9 L625.4,866.7 L626.2,860.5 L627.0,854.2 L627.8,848.0 L628.6,841.8 L629.4,835.7 L629.9,832.1" stroke-dashoffset="0.0"/>
<path d="M629.6,834.0 L630.2,829.6 L631.0,823.5 L631.8,817.4 L632.6,811.3 L633.4,805.2 L634.2,799.1 L635.0,793.3 L635.8,787.6 L636.6,782.2 L637.4,776.9 L638.3,771.9 L639.1,766.9 L639.9,761.9 L640.7,757.0 L641.5,752.0 L642.3,747.2 L643.1,742.4 L643.9,737.7 L644.7,733.1 L645.5,728.5 L646.3,723.9 L646.5,722.6" stroke-dashoffset="0.0"/>
<path d="M646.2,724.1 L646.3,723.9 L647.1,719.2 L647.9,714.5 L648.7,709.8 L649.5,705.0 L650.3,700.3 L651.1,695.5 L651.9,690.7 L652.7,686.0 L653.5,681.2 L654.3,676.5 L655.1,671.7 L655.9,666.9 L656.7,662.0 L657.5,657.1 L658.3,652.0 L659.1,646.9 L659.9,641.6 L660.7,636.0 L661.5,630.1 L662.3,623.9 L663.1,617.3" stroke-dashoffset="0.0"/>
<path d="M662.9,619.4 L663.1,617.3 L663.9,610.4 L664.7,603.3 L665.5,596.1 L666.3,588.9 L667.1,581.7 L667.9,574.7 L668.8,567.8 L669.6,561.1 L670.4,554.6 L671.2,548.4 L672.0,542.5 L672.8,536.8 L673.6,531.5 L674.4,526.6 L675.2,522.0 L676.0,517.3 L676.8,513.0 L677.6,509.9 L678.4,507.5 L678.6,507.0" stroke-dashoffset="0.0"/>
<path d="M678.3,507.7 L678.4,507.5 L679.2,505.5 L680.0,504.1 L680.8,503.3 L681.6,502.9 L682.4,503.4 L683.2,504.6 L684.0,506.6 L684.8,509.1 L685.6,512.1 L686.4,515.8 L687.2,520.9 L688.0,526.0 L688.8,530.8 L689.6,535.6 L690.4,540.6 L691.1,545.6 L691.9,550.7 L692.7,555.8 L693.5,560.9 L694.3,566.0 L695.1,571.1 L695.9,576.0" stroke-dashoffset="0.0"/>
<path d="M695.6,574.4 L695.9,576.2 L696.7,581.3 L697.5,586.5 L698.3,591.8 L699.1,597.1 L699.9,602.5 L700.7,607.8 L701.5,613.2 L702.3,618.6 L703.1,624.0 L703.9,629.4 L704.7,634.7 L705.5,639.9 L706.3,645.1 L707.1,650.3 L707.9,655.4 L708.7,660.6 L709.5,665.7 L710.3,670.9 L711.1,676.1 L711.8,681.4 L712.0,682.8" stroke-dashoffset="0.0"/>
<path d="M711.8,681.1 L711.8,681.4 L712.6,686.9 L713.4,692.6 L714.2,698.5 L715.0,704.6 L715.8,710.9 L716.6,717.2 L717.4,723.6 L718.2,729.9 L719.0,736.2 L719.8,742.4 L720.6,748.7 L721.4,754.9 L722.2,761.1 L723.0,767.3 L723.8,773.4 L724.6,779.6 L725.4,785.6 L726.2,791.3 L727.0,796.9 L727.8,802.2 L728.5,806.3" stroke-dashoffset="0.0"/>
<path d="M728.2,804.7 L728.6,807.3 L729.4,812.4 L730.2,817.5 L731.1,822.5 L731.9,827.5 L732.7,832.4 L733.5,837.2 L734.3,842.0 L735.1,846.7 L735.9,851.4 L736.7,856.1 L737.5,860.8 L738.4,865.6 L739.2,870.5 L740.0,875.3 L740.8,880.1 L741.6,885.0 L742.4,889.8 L743.2,894.7 L744.0,899.5 L744.9,904.3 L745.5,907.9" stroke-dashoffset="0.0"/>
<path d="M745.2,906.4 L745.7,909.2 L746.5,914.1 L747.3,919.1 L748.1,924.2 L748.9,929.4 L749.7,934.7 L750.5,940.2 L751.3,946.0 L752.2,952.2 L753.0,958.8 L753.8,965.7 L754.6,972.8 L755.4,980.1 L756.2,987.4 L757.0,994.7 L757.8,1002.0 L758.7,1009.0 L759.5,1015.9 L760.3,1022.5 L761.1,1028.9 L761.9,1035.0 L762.0,1035.5" stroke-dashoffset="0.0"/>
<path d="M761.7,1033.6 L761.9,1035.0 L762.7,1040.9 L763.5,1046.3 L764.3,1051.3 L765.1,1056.1 L766.0,1060.8 L766.8,1065.3 L767.6,1068.5 L768.4,1071.1 L769.2,1073.1 L770.0,1074.6 L770.8,1075.4 L771.6,1075.8 L772.4,1075.3 L773.2,1074.2 L774.0,1072.3 L774.8,1069.8 L775.6,1067.0 L776.4,1063.5 L777.2,1058.7 L778.0,1053.6 L778.3,1051.6" stroke-dashoffset="0.0"/>
<path d="M778.1,1053.1 L778.8,1049.0 L779.6,1044.3 L780.3,1039.5 L781.1,1034.6 L781.9,1029.6 L782.7,1024.7 L783.5,1019.7 L784.3,1014.8 L785.1,1009.8 L785.9,1004.9 L786.7,999.9 L787.5,994.9 L788.3,989.8 L789.0,984.6 L789.8,979.4 L790.6,974.2 L791.4,969.0 L792.2,963.8 L793.0,958.5 L793.8,953.3 L794.6,948.1 L794.8,947.0" stroke-dashoffset="0.0"/>
<path d="M794.5,948.6 L794.6,948.1 L795.4,942.9 L796.2,937.9 L797.0,932.8 L797.7,927.8 L798.5,922.8 L799.3,917.9 L800.1,912.8 L800.9,907.8 L801.7,902.7 L802.5,897.5 L803.3,892.1 L804.1,886.5 L804.9,880.7 L805.7,874.7 L806.4,868.6 L807.2,862.4 L808.0,856.3 L808.8,850.1 L809.6,844.0 L810.4,838.0 L811.2,832.0" stroke-dashoffset="0.0"/>
<path d="M810.9,833.9 L811.2,831.9 L812.0,825.9 L812.8,819.9 L813.6,813.8 L814.4,807.8 L815.2,801.8 L815.9,796.0 L816.7,790.4 L817.5,785.1 L818.4,779.9 L819.2,774.9 L820.0,769.9 L820.8,765.0 L821.6,760.1 L822.4,755.3 L823.3,750.5 L824.1,745.8 L824.9,741.1 L825.7,736.5 L826.5,732.0 L827.3,727.4 L827.6,725.9" stroke-dashoffset="0.0"/>
<path d="M827.4,727.3 L828.2,722.8 L829.0,718.2 L829.8,713.5 L830.6,708.8 L831.4,704.1 L832.2,699.4 L833.1,694.7 L833.9,689.9 L834.7,685.2 L835.5,680.6 L836.3,675.8 L837.1,671.1 L838.0,666.3 L838.8,661.4 L839.6,656.4 L840.4,651.3 L841.2,646.1 L842.0,640.6 L842.9,634.7 L843.7,628.6 L844.1,625.6" stroke-dashoffset="0.0"/>
<path d="M843.8,627.6 L844.5,622.1 L845.3,615.2 L846.1,608.3 L846.9,601.1 L847.8,594.0 L848.6,586.9 L849.4,580.0 L850.2,573.1 L851.0,566.5 L851.8,560.1 L852.7,554.0 L853.5,548.1 L854.3,542.5 L855.1,537.3 L855.9,532.5 L856.7,527.9 L857.6,523.2 L858.4,519.0 L859.2,516.0 L860.0,513.5 L860.2,513.1" stroke-dashoffset="0.0"/>
<path d="M859.9,513.7 L860.0,513.5 L860.8,511.6 L861.6,510.2 L862.5,509.4 L863.3,509.0 L864.1,509.5 L864.9,510.7 L865.7,512.6 L866.5,515.2 L867.3,518.1 L868.1,521.8 L868.9,526.8 L869.7,531.9 L870.5,536.6 L871.4,541.3 L872.2,546.3 L873.0,551.3 L873.8,556.4 L874.6,561.4 L875.4,566.5 L876.2,571.5 L876.9,575.9" stroke-dashoffset="0.0"/>
<path d="M876.7,574.4 L877.0,576.5 L877.8,581.6 L878.6,586.7 L879.4,591.8 L880.3,597.0 L881.1,602.3 L881.9,607.6 L882.7,612.9 L883.5,618.2 L884.3,623.6 L885.1,628.9 L885.9,634.2 L886.7,639.5 L887.5,644.7 L888.3,649.9 L889.1,655.0 L890.0,660.0 L890.8,665.1 L891.6,670.2 L892.4,675.3 L893.2,680.5 L893.4,681.5" stroke-dashoffset="0.0"/>
<path d="M893.1,679.9 L893.2,680.5 L894.0,685.8 L894.8,691.2 L895.6,696.8 L896.4,702.7 L897.2,708.7 L898.0,715.0 L898.9,721.2 L899.7,727.5 L900.5,733.8 L901.3,740.0 L902.1,746.2 L902.9,752.3 L903.7,758.5 L904.5,764.6 L905.3,770.8 L906.1,776.9 L906.9,783.0 L907.7,788.9 L908.5,794.6 L909.2,799.4" stroke-dashoffset="0.0"/>
<path d="M909.0,797.7 L909.3,800.1 L910.2,805.4 L911.0,810.4 L911.8,815.5 L912.6,820.5 L913.4,825.5 L914.2,830.4 L915.0,835.3 L915.8,840.1 L916.6,844.8 L917.4,849.4 L918.2,854.1 L919.0,858.7 L919.8,863.4 L920.6,868.2 L921.4,873.0 L922.2,877.8 L923.0,882.6 L923.8,887.4 L924.6,892.2 L925.4,897.0 L926.2,901.7 L926.5,903.9" stroke-dashoffset="0.0"/>
<path d="M926.3,902.4 L927.0,906.5 L927.8,911.3 L928.6,916.2 L929.4,921.1 L930.2,926.2 L931.0,931.3 L931.8,936.6 L932.6,942.0 L933.4,947.8 L934.2,953.9 L935.0,960.4 L935.8,967.3 L936.6,974.3 L937.4,981.5 L938.2,988.8 L939.0,996.0 L939.8,1003.2 L940.6,1010.2 L941.4,1017.0 L942.2,1023.6 L943.0,1029.9 L943.8,1035.9 L943.8,1036.0" stroke-dashoffset="0.0"/>
<path d="M943.5,1034.1 L943.8,1035.9 L944.6,1041.7 L945.4,1047.1 L946.2,1052.1 L947.0,1056.8 L947.8,1061.5 L948.6,1065.9 L949.4,1069.1 L950.2,1071.6 L951.0,1073.6 L951.8,1075.1 L952.6,1075.9 L953.4,1076.3 L954.2,1075.8 L955.0,1074.7 L955.8,1072.8 L956.6,1070.3 L957.4,1067.5 L958.2,1063.9 L959.0,1059.1 L959.8,1054.1 L960.6,1049.4 L961.1,1046.9" stroke-dashoffset="0.0"/>
<path d="M960.8,1048.4 L961.4,1044.8 L962.2,1039.9 L963.0,1035.0 L963.8,1030.1 L964.6,1025.1 L965.5,1020.1 L966.3,1015.2 L967.1,1010.2 L967.9,1005.2 L968.7,1000.3 L969.5,995.2 L970.3,990.1 L971.1,985.0 L971.9,979.8 L972.7,974.5 L973.5,969.3 L974.3,964.1 L975.1,958.8 L975.9,953.6 L976.7,948.4 L977.6,943.2 L978.3,938.4" stroke-dashoffset="0.0"/>
<path d="M978.1,940.0 L978.4,938.1 L979.2,933.1 L980.0,928.1 L980.8,923.1 L981.6,918.1 L982.4,913.1 L983.2,908.0 L984.0,902.9 L984.8,897.7 L985.6,892.3 L986.4,886.7 L987.2,880.9 L988.0,874.9 L988.8,868.7 L989.7,862.6 L990.5,856.4 L991.3,850.2 L992.1,844.1 L992.9,838.0 L993.7,832.0 L994.5,825.9 L995.3,819.9 L995.6,817.8" stroke-dashoffset="0.0"/>
<path d="M995.3,819.6 L996.1,813.9 L996.9,807.9 L997.7,801.9 L998.5,796.0 L999.3,790.4 L1000.1,785.0 L1000.9,779.9 L1001.8,774.9 L1002.6,769.9 L1003.4,765.0 L1004.2,760.1 L1005.0,755.2 L1005.8,750.4 L1006.6,745.7 L1007.4,741.0 L1008.2,736.5 L1009.0,731.9 L1009.8,727.3 L1010.6,722.7 L1011.4,718.0 L1012.2,713.4 L1012.9,709.8" stroke-dashoffset="0.0"/>
<path d="M1012.6,711.3 L1013.1,708.7 L1013.9,703.9 L1014.7,699.2 L1015.5,694.5 L1016.3,689.8 L1017.1,685.1 L1017.9,680.4 L1018.7,675.6 L1019.5,670.9 L1020.3,666.1 L1021.1,661.2 L1021.9,656.2 L1022.7,651.1 L1023.6,645.8 L1024.4,640.3 L1025.2,634.5 L1026.0,628.3 L1026.8,621.8 L1027.6,614.9 L1028.4,607.9 L1029.2,600.8 L1029.2,600.5" stroke-dashoffset="0.0"/>
<path d="M1029.0,602.7 L1029.2,600.8 L1030.0,593.7 L1030.8,586.6 L1031.6,579.6 L1032.4,572.7 L1033.2,566.1 L1034.0,559.7 L1034.9,553.6 L1035.7,547.7 L1036.5,542.1 L1037.3,536.8 L1038.1,532.0 L1038.9,527.4 L1039.7,522.8 L1040.5,518.5 L1041.3,515.5 L1042.1,513.0 L1042.9,511.1 L1043.7,509.7 L1044.5,508.9 L1045.3,508.5 L1046.2,509.0 L1047.0,510.2 L1047.4,511.3" stroke-dashoffset="0.0"/>
<path d="M1047.1,510.6 L1047.8,512.3 L1048.6,514.9 L1049.4,518.0 L1050.2,521.9 L1051.0,527.1 L1051.9,532.3 L1052.7,537.1 L1053.5,542.0 L1054.3,547.1 L1055.1,552.3 L1055.9,557.5 L1056.7,562.7 L1057.6,567.9 L1058.4,573.0 L1059.2,578.2 L1060.0,583.4 L1060.8,588.6 L1061.6,594.0 L1062.4,599.3 L1063.3,604.7 L1064.1,610.2 L1064.7,614.1" stroke-dashoffset="0.0"/>
<path d="M1064.4,612.4 L1064.9,615.7 L1065.7,621.1 L1066.5,626.6 L1067.3,632.1 L1068.1,637.5 L1069.0,642.9 L1069.8,648.2 L1070.6,653.5 L1071.4,658.7 L1072.2,663.9 L1073.0,669.1 L1073.8,674.4 L1074.7,679.7 L1075.5,685.1 L1076.3,690.5 L1077.1,696.3 L1077.9,702.2 L1078.7,708.4 L1079.5,714.8 L1080.3,721.2 L1081.2,727.6 L1081.2,728.3" stroke-dashoffset="0.0"/>
<path d="M1081.0,726.3 L1081.2,727.6 L1082.0,734.1 L1082.8,740.5 L1083.6,746.8 L1084.4,753.2 L1085.2,759.5 L1086.0,765.8 L1086.9,772.1 L1087.7,778.4 L1088.5,784.6 L1089.3,790.7 L1090.1,796.6 L1090.9,802.2 L1091.7,807.6 L1092.5,812.8 L1093.3,818.0 L1094.1,823.2 L1094.9,828.3 L1095.7,833.3 L1096.5,838.3 L1097.3,843.2 L1097.7,846.0" stroke-dashoffset="0.0"/>
<path d="M1097.5,844.4 L1098.1,848.1 L1098.9,852.8 L1099.6,857.6 L1100.4,862.4 L1101.2,867.2 L1102.0,872.1 L1102.8,877.0 L1103.6,881.9 L1104.4,886.9 L1105.2,891.8 L1106.0,896.7 L1106.8,901.7 L1107.6,906.6 L1108.4,911.5 L1109.2,916.4 L1110.0,921.5 L1110.8,926.6 L1111.6,931.8 L1112.4,937.1 L1113.2,942.6 L1114.0,948.4 L1114.2,949.9" stroke-dashoffset="0.0"/>
<path d="M1113.9,948.0 L1114.0,948.4 L1114.8,954.5 L1115.6,961.0 L1116.4,967.9 L1117.2,975.1 L1118.0,982.5 L1118.7,989.9 L1119.5,997.3 L1120.3,1004.7 L1121.1,1012.0 L1121.9,1019.0 L1122.7,1025.8 L1123.5,1032.4 L1124.3,1038.7 L1125.1,1044.7 L1125.9,1050.3 L1126.7,1055.5 L1127.5,1060.3 L1128.3,1065.1 L1129.1,1069.7 L1129.9,1073.2 L1130.7,1075.8 L1131.5,1077.9 L1132.3,1079.4 L1133.1,1080.3 L1133.9,1080.7 L1134.7,1080.2 L1135.3,1079.4" stroke-dashoffset="0.0"/>
<path d="M1135.0,1079.7 L1135.4,1079.1 L1136.2,1077.3 L1137.0,1074.9 L1137.8,1072.1 L1138.6,1068.8 L1139.4,1064.2 L1140.2,1059.2 L1140.9,1054.5 L1141.7,1049.9 L1142.5,1045.2 L1143.3,1040.4 L1144.1,1035.5 L1144.9,1030.6 L1145.7,1025.6 L1146.5,1020.7 L1147.1,1016.8" stroke-dashoffset="0.0"/>
<path d="M1146.8,1018.4 L1147.2,1015.8 L1148.0,1010.9 L1148.8,1006.0 L1149.6,1001.1 L1150.4,996.1 L1151.2,991.0 L1152.0,985.9 L1152.8,980.7 L1153.5,975.6 L1154.3,970.4 L1155.1,965.2 L1155.9,960.0 L1156.7,954.8 L1157.5,949.7 L1158.3,944.6 L1159.1,939.6 L1159.8,934.6 L1160.6,929.7 L1161.4,924.7 L1162.2,919.8 L1163.0,914.8 L1163.5,911.3" stroke-dashoffset="0.0"/>
<path d="M1163.3,912.9 L1163.8,909.9 L1164.6,904.8 L1165.3,899.6 L1166.1,894.3 L1166.9,888.8 L1167.7,883.0 L1168.5,877.1 L1169.3,871.1 L1170.1,865.0 L1170.9,858.9 L1171.6,852.8 L1172.4,846.8 L1173.2,840.7 L1174.0,834.7 L1174.8,828.8 L1175.6,822.8 L1176.4,816.8 L1177.2,810.9 L1177.9,804.9 L1178.7,799.1 L1179.5,793.4 L1180.0,790.1" stroke-dashoffset="0.0"/>
<path d="M1179.8,791.8 L1180.3,788.0 L1181.1,782.8 L1181.9,777.8 L1182.7,772.8 L1183.6,767.9 L1184.4,763.1 L1185.2,758.3 L1186.0,753.5 L1186.8,748.7 L1187.6,744.1 L1188.4,739.5 L1189.2,735.0 L1190.0,730.5 L1190.8,726.0 L1191.7,721.4 L1192.5,716.8 L1193.3,712.1 L1194.1,707.5 L1194.9,702.8 L1195.7,698.2 L1196.5,693.7" stroke-dashoffset="0.0"/>
<path d="M1196.2,695.2 L1196.5,693.5 L1197.3,688.8 L1198.1,684.2 L1198.9,679.5 L1199.8,674.9 L1200.6,670.2 L1201.4,665.4 L1202.2,660.6 L1203.0,655.7 L1203.8,650.7 L1204.6,645.5 L1205.4,640.2 L1206.2,634.5 L1207.0,628.5 L1207.9,622.2 L1208.7,615.5 L1209.5,608.7 L1210.3,601.7 L1210.7,598.2" stroke-dashoffset="0.0"/>
<path d="M1210.4,600.3 L1211.1,594.6 L1211.9,587.6 L1212.7,580.6 L1213.5,573.8 L1214.3,567.1 L1215.1,560.6 L1216.0,554.4 L1216.8,548.4 L1217.6,542.7 L1218.4,537.2 L1219.2,532.1 L1220.0,527.4 L1220.8,522.9 L1221.6,518.3 L1222.4,514.3 L1223.2,511.4 L1224.1,509.1 L1224.9,507.2 L1225.7,505.9 L1226.5,505.1 L1227.3,504.7 L1228.1,505.2 L1228.9,506.4 L1229.4,507.7" stroke-dashoffset="0.0"/>
<path d="M1229.1,507.1 L1229.7,508.4 L1230.5,511.0 L1231.3,514.0 L1232.1,517.9 L1232.9,523.0 L1233.6,528.1 L1234.4,532.9 L1235.2,537.7 L1236.0,542.8 L1236.8,547.9 L1237.6,553.0 L1238.4,558.2 L1239.2,563.3 L1240.0,568.4 L1240.8,573.5 L1241.6,578.6 L1242.4,583.8 L1243.2,589.1 L1244.0,594.4 L1244.8,599.7 L1245.5,605.1 L1245.8,607.2" stroke-dashoffset="0.0"/>
<path d="M1245.6,605.5 L1246.3,610.5 L1247.1,616.0 L1247.9,621.4 L1248.7,626.8 L1249.5,632.2 L1250.3,637.5 L1251.1,642.8 L1251.9,648.0 L1252.7,653.2 L1253.5,658.4 L1254.3,663.5 L1255.1,668.7 L1255.9,673.9 L1256.7,679.2 L1257.4,684.6 L1258.2,690.2 L1259.0,696.0 L1259.8,702.1 L1260.6,708.3 L1261.4,714.6 L1262.2,721.0 L1262.7,724.6" stroke-dashoffset="0.0"/>
<path d="M1262.4,722.6 L1263.0,727.4 L1263.8,733.7 L1264.6,740.0 L1265.4,746.3 L1266.2,752.6 L1267.0,758.8 L1267.8,765.1 L1268.6,771.3 L1269.3,777.5 L1270.1,783.7 L1270.9,789.6 L1271.8,795.2 L1272.6,800.7 L1273.4,805.9 L1274.2,811.1 L1275.0,816.2 L1275.9,821.3 L1276.7,826.3 L1277.5,831.3 L1278.3,836.2 L1278.8,838.7" stroke-dashoffset="0.0"/>
<path d="M1278.5,837.2 L1279.2,841.0 L1280.0,845.8 L1280.8,850.5 L1281.6,855.2 L1282.4,860.0 L1283.3,864.8 L1284.1,869.6 L1284.9,874.5 L1285.7,879.4 L1286.5,884.2 L1287.4,889.1 L1288.2,894.0 L1289.0,898.9 L1289.8,903.7 L1290.7,908.6 L1291.5,913.5 L1292.3,918.5 L1293.1,923.6 L1293.9,928.8 L1294.8,934.1 L1295.3,938.0" stroke-dashoffset="0.0"/>
<path d="M1295.1,936.3 L1295.6,939.6 L1296.4,945.4 L1297.2,951.6 L1298.1,958.1 L1298.9,965.0 L1299.7,972.1 L1300.5,979.4 L1301.3,986.8 L1302.2,994.1 L1303.0,1001.5 L1303.8,1008.6 L1304.6,1015.5 L1305.5,1022.2 L1306.3,1028.7 L1307.1,1034.9 L1307.9,1040.8 L1308.7,1046.3 L1309.6,1051.4 L1310.4,1056.2 L1311.2,1061.0 L1312.0,1065.5 L1312.9,1068.8 L1313.7,1071.4 L1314.3,1073.0" stroke-dashoffset="0.0"/>
<path d="M1314.0,1072.3 L1314.5,1073.5 L1315.3,1074.9 L1316.1,1075.8 L1317.0,1076.2 L1317.8,1075.7 L1318.6,1074.6 L1319.4,1072.7 L1320.2,1070.3 L1321.0,1067.4 L1321.8,1064.0 L1322.6,1059.2 L1323.4,1054.2 L1324.2,1049.5 L1325.0,1044.9 L1325.8,1040.1 L1326.6,1035.2 L1327.4,1030.2 L1328.2,1025.3 L1328.5,1022.8" stroke-dashoffset="0.0"/>
<path d="M1328.3,1024.3 L1329.0,1020.3 L1329.8,1015.3 L1330.6,1010.4 L1331.4,1005.5 L1332.2,1000.5 L1333.0,995.5 L1333.8,990.4 L1334.5,985.3 L1335.3,980.1 L1336.1,974.9 L1336.9,969.7 L1337.7,964.4 L1338.5,959.2 L1339.3,954.0 L1340.1,948.8 L1340.9,943.6 L1341.7,938.5 L1342.5,933.4 L1343.3,928.5 L1344.1,923.5 L1344.9,918.5 L1345.2,917.2" stroke-dashoffset="0.0"/>
<path d="M1344.9,918.7 L1344.9,918.5 L1345.7,913.5 L1346.5,908.5 L1347.3,903.4 L1348.1,898.2 L1348.9,892.9 L1349.7,887.4 L1350.5,881.6 L1351.3,875.7 L1352.1,869.6 L1352.9,863.5 L1353.7,857.3 L1354.5,851.2 L1355.3,845.1 L1356.1,839.0 L1356.9,832.9 L1357.7,826.9 L1358.5,820.9 L1359.3,814.9 L1360.1,808.8 L1360.9,802.8 L1361.7,796.9 L1361.8,796.8" stroke-dashoffset="0.0"/>
<path d="M1361.5,798.6 L1361.7,796.9 L1362.5,791.2 L1363.3,785.8 L1364.1,780.5 L1365.0,775.4 L1365.8,770.4 L1366.6,765.5 L1367.4,760.6 L1368.2,755.7 L1369.0,750.9 L1369.8,746.2 L1370.6,741.5 L1371.4,736.9 L1372.2,732.3 L1373.0,727.8 L1373.8,723.2 L1374.7,718.5 L1375.5,713.9 L1376.3,709.2 L1377.1,704.5 L1377.9,699.8 L1378.3,697.1" stroke-dashoffset="0.0"/>
<path d="M1378.1,698.6 L1378.7,695.1 L1379.5,690.4 L1380.3,685.7 L1381.1,681.0 L1381.9,676.3 L1382.7,671.6 L1383.5,666.8 L1384.4,662.0 L1385.2,657.1 L1386.0,652.1 L1386.8,646.9 L1387.6,641.6 L1388.4,636.1 L1389.2,630.2 L1390.0,623.9 L1390.8,617.3 L1391.2,614.1" stroke-dashoffset="0.0"/>
</g>
<g stroke="#00cc00" stroke-width="6" stroke-dasharray="25 9 5 9">
<path d="M261.2,937.2 L261.7,934.5 L262.5,930.0 L263.3,925.5 L264.2,921.0 L265.1,916.4 L265.9,911.8 L266.8,907.1 L267.6,902.3 L268.5,897.5 L269.3,892.5 L270.2,887.4 L271.0,882.1 L271.9,876.8 L272.7,871.3 L273.6,865.8 L274.5,860.3 L275.3,854.8 L276.2,849.3 L276.3,848.5" stroke-dashoffset="13.2"/>
<path d="M276.0,850.1 L276.2,849.3 L277.0,843.8 L277.9,838.4 L278.7,833.0 L279.6,827.6 L280.4,822.2 L281.3,816.8 L282.1,811.4 L283.0,806.1 L283.8,800.9 L284.7,795.9 L285.6,791.3 L286.4,786.8 L287.2,782.6 L288.0,778.4 L288.8,774.3 L289.6,770.2 L290.4,766.0 L291.2,761.9 L292.0,757.7 L292.8,753.5 L293.3,750.8" stroke-dashoffset="0.0"/>
<path d="M293.1,752.1 L293.6,749.4 L294.4,745.3 L295.2,741.2 L296.0,737.3 L296.8,733.3 L297.6,729.5 L298.4,725.6 L299.2,721.7 L300.0,717.9 L300.8,714.0 L301.6,710.2 L302.4,706.3 L303.2,702.4 L304.0,698.6 L304.8,694.6 L305.6,690.4 L306.4,686.0 L307.2,681.5 L308.0,676.8 L308.8,672.0 L309.6,667.1 L310.4,662.7" stroke-dashoffset="0.0"/>
<path d="M310.1,664.2 L310.4,662.1 L311.2,657.1 L312.0,652.0 L312.8,646.7 L313.6,641.4 L314.4,635.8 L315.3,630.1 L316.1,624.2 L316.9,618.2 L317.7,612.2 L318.5,606.1 L319.3,600.0 L320.1,594.1 L320.9,588.3 L321.7,582.9 L322.5,577.8 L323.3,573.1 L324.1,568.8 L324.9,564.6 L325.7,560.5 L326.5,556.7 L327.3,552.9 L327.3,552.9" stroke-dashoffset="0.0"/>
<path d="M327.1,554.0 L327.3,552.9 L328.1,549.4 L328.9,547.2 L329.7,545.9 L330.5,545.0 L331.3,544.6 L332.1,544.9 L332.9,545.5 L333.7,546.5 L334.6,548.0 L335.4,549.9 L336.2,552.3 L337.0,555.9 L337.8,559.8 L338.6,563.3 L339.4,566.8 L340.3,570.4 L341.1,574.2 L341.9,578.2 L342.7,582.6 L343.5,587.2 L344.2,591.6" stroke-dashoffset="0.0"/>
<path d="M344.0,590.1 L344.3,592.1 L345.1,597.3 L346.0,602.5 L346.8,607.8 L347.6,613.0 L348.4,618.2 L349.2,623.2 L350.0,628.1 L350.8,632.9 L351.7,637.5 L352.5,642.0 L353.3,646.5 L354.1,650.9 L354.9,655.2 L355.7,659.6 L356.6,664.1 L357.4,668.6 L358.2,673.1 L359.0,677.7 L359.8,682.3 L360.6,687.0 L361.2,690.4" stroke-dashoffset="0.0"/>
<path d="M361.0,689.0 L361.4,691.7 L362.3,696.6 L363.1,701.6 L363.9,706.8 L364.7,712.1 L365.5,717.5 L366.3,722.9 L367.1,728.4 L368.0,733.9 L368.8,739.3 L369.6,744.7 L370.4,750.1 L371.2,755.5 L372.0,760.9 L372.8,766.2 L373.7,771.6 L374.5,777.0 L375.3,782.2 L376.1,787.4 L376.9,792.5 L377.7,797.3 L378.2,800.0" stroke-dashoffset="0.0"/>
<path d="M377.9,798.6 L378.5,801.8 L379.3,806.1 L380.1,810.2 L380.9,814.3 L381.6,818.4 L382.4,822.5 L383.2,826.6 L384.0,830.8 L384.8,834.9 L385.6,839.0 L386.4,843.1 L387.2,847.1 L388.0,851.1 L388.8,855.0 L389.5,858.9 L390.3,862.8 L391.1,866.6 L391.9,870.4 L392.7,874.2 L393.5,878.0 L394.3,881.9 L395.1,885.7 L395.1,886.0" stroke-dashoffset="0.0"/>
<path d="M394.9,884.8 L395.1,885.7 L395.9,889.5 L396.7,893.4 L397.5,897.4 L398.2,901.6 L399.0,906.0 L399.8,910.5 L400.6,915.2 L401.4,920.0 L402.2,924.9 L403.0,929.8 L403.8,934.8 L404.6,939.9 L405.4,945.1 L406.1,950.5 L406.9,956.0 L407.7,961.7 L408.5,967.5 L409.3,973.5 L410.1,979.5 L410.9,985.6 L411.7,991.6 L412.4,997.0" stroke-dashoffset="0.0"/>
<path d="M412.1,995.1 L412.5,997.4 L413.3,1003.2 L414.0,1008.5 L414.8,1013.4 L415.6,1018.1 L416.4,1022.4 L417.2,1026.5 L418.0,1030.5 L418.8,1034.3 L419.6,1038.0 L420.4,1041.5 L421.2,1043.7 L421.9,1045.0 L422.7,1045.8 L423.5,1046.2 L424.3,1045.9 L425.1,1045.3 L425.9,1044.3 L426.7,1042.8 L427.5,1041.0 L428.3,1038.5 L429.1,1035.0 L429.6,1032.2" stroke-dashoffset="0.0"/>
<path d="M429.4,1033.5 L429.9,1031.1 L430.7,1027.6 L431.5,1024.1 L432.3,1020.5 L433.1,1016.8 L433.9,1012.8 L434.6,1008.5 L435.4,1003.9 L436.2,999.0 L437.0,993.8 L437.8,988.6 L438.6,983.4 L439.4,978.2 L440.2,973.1 L441.0,968.1 L441.8,963.2 L442.6,958.5 L443.4,953.8 L444.2,949.3 L445.0,944.9 L445.8,940.6 L446.2,937.9" stroke-dashoffset="0.0"/>
<path d="M446.0,939.3 L446.6,936.2 L447.4,931.9 L448.1,927.4 L448.9,923.0 L449.7,918.5 L450.5,913.9 L451.3,909.4 L452.1,904.7 L452.9,900.0 L453.7,895.1 L454.5,890.1 L455.3,885.0 L456.1,879.7 L456.9,874.3 L457.7,868.9 L458.5,863.5 L459.3,858.1 L460.1,852.7 L460.9,847.3 L461.7,841.9 L462.4,836.5 L463.2,831.2 L464.0,825.9 L464.6,822.4" stroke-dashoffset="0.0"/>
<path d="M464.3,824.1 L464.8,820.6 L465.6,815.2 L466.4,810.0 L467.2,804.8 L468.0,799.8 L468.8,795.1 L469.6,790.6 L470.4,786.3 L471.2,782.2 L472.0,778.1 L472.8,774.0 L473.6,770.0 L474.5,765.9 L475.3,761.8 L476.1,757.7 L476.9,753.6 L477.7,749.5 L478.5,745.5 L479.3,741.5 L480.1,737.6 L480.2,737.0" stroke-dashoffset="0.0"/>
<path d="M480.0,738.2 L480.1,737.6 L480.9,733.8 L481.7,729.9 L482.5,726.1 L483.4,722.3 L484.2,718.5 L485.0,714.7 L485.8,711.0 L486.6,707.2 L487.4,703.3 L488.2,699.5 L489.0,695.5 L489.8,691.3 L490.6,687.0 L491.5,682.5 L492.3,677.8 L493.1,673.1 L493.9,668.2 L494.7,663.3 L495.5,658.3 L496.3,653.3 L496.9,649.7" stroke-dashoffset="0.0"/>
<path d="M496.6,651.3 L497.1,648.1 L497.9,642.8 L498.7,637.2 L499.6,631.6 L500.4,625.8 L501.2,619.9 L502.0,613.9 L502.8,607.9 L503.6,601.9 L504.4,596.1 L505.2,590.4 L506.0,585.1 L506.8,580.2 L507.7,575.6 L508.5,571.3 L509.3,567.2 L510.1,563.2 L510.9,559.4 L511.7,555.7 L512.5,552.3 L513.3,550.1 L513.5,549.8" stroke-dashoffset="0.0"/>
<path d="M513.2,550.3 L513.3,550.1 L514.1,548.8 L514.9,548.0 L515.8,547.6 L516.6,547.9 L517.4,548.5 L518.2,549.5 L519.0,551.0 L519.8,552.8 L520.6,555.3 L521.4,558.9 L522.2,562.7 L523.0,566.1 L523.8,569.6 L524.6,573.2 L525.4,576.9 L526.2,580.9 L527.0,585.2 L527.8,589.8 L528.6,594.7 L529.4,599.8 L530.1,604.2" stroke-dashoffset="0.0"/>
<path d="M529.9,602.6 L530.2,605.0 L531.0,610.2 L531.8,615.3 L532.7,620.3 L533.5,625.3 L534.3,630.1 L535.1,634.7 L535.9,639.3 L536.7,643.7 L537.5,648.1 L538.3,652.4 L539.1,656.7 L539.9,661.0 L540.7,665.4 L541.5,669.9 L542.3,674.3 L543.1,678.8 L543.9,683.4 L544.7,688.0 L545.5,692.8 L546.3,697.6 L546.8,700.2" stroke-dashoffset="0.0"/>
<path d="M546.5,698.7 L547.1,702.6 L547.9,707.8 L548.7,713.0 L549.6,718.4 L550.4,723.7 L551.2,729.1 L552.0,734.5 L552.8,739.8 L553.6,745.2 L554.4,750.5 L555.2,755.8 L556.0,761.1 L556.8,766.3 L557.6,771.6 L558.4,776.9 L559.2,782.0 L560.0,787.1 L560.8,791.9 L561.6,796.5 L562.4,800.8 L563.2,805.0 L563.4,805.7" stroke-dashoffset="0.0"/>
<path d="M563.1,804.5 L563.2,805.0 L564.0,809.0 L564.8,813.0 L565.6,817.1 L566.4,821.1 L567.2,825.2 L568.0,829.3 L568.8,833.3 L569.6,837.4 L570.4,841.4 L571.2,845.3 L572.0,849.2 L572.8,853.0 L573.6,856.8 L574.4,860.6 L575.2,864.4 L576.0,868.1 L576.8,871.9 L577.6,875.7 L578.4,879.4 L579.3,883.2 L580.0,886.7" stroke-dashoffset="0.0"/>
<path d="M579.8,885.6 L580.1,887.0 L580.9,890.9 L581.7,895.0 L582.5,899.2 L583.3,903.7 L584.1,908.3 L584.9,912.9 L585.7,917.7 L586.5,922.5 L587.3,927.5 L588.1,932.5 L588.9,937.6 L589.7,942.8 L590.5,948.2 L591.3,953.8 L592.1,959.6 L592.9,965.4 L593.7,971.3 L594.5,977.3 L595.3,983.2 L596.1,989.0 L596.6,992.8" stroke-dashoffset="0.0"/>
<path d="M596.4,991.1 L596.9,994.7 L597.7,999.9 L598.5,1004.9 L599.3,1009.5 L600.1,1013.7 L600.9,1017.8 L601.7,1021.7 L602.5,1025.5 L603.3,1029.2 L604.1,1032.6 L604.9,1034.8 L605.7,1036.1 L606.5,1036.9 L607.3,1037.3 L608.1,1037.0 L608.9,1036.4 L609.8,1035.4 L610.6,1033.9 L611.4,1032.0 L612.2,1029.6 L613.0,1026.1 L613.2,1025.0" stroke-dashoffset="0.0"/>
<path d="M613.0,1026.2 L613.0,1026.1 L613.8,1022.2 L614.7,1018.7 L615.5,1015.2 L616.3,1011.6 L617.1,1007.8 L617.9,1003.8 L618.8,999.5 L619.6,994.9 L620.4,990.0 L621.2,984.8 L622.0,979.6 L622.8,974.3 L623.7,969.1 L624.5,964.0 L625.3,959.0 L626.1,954.1 L626.9,949.4 L627.8,944.8 L628.6,940.3 L629.4,935.8 L629.9,933.3" stroke-dashoffset="0.0"/>
<path d="M629.6,934.6 L630.2,931.5 L631.0,927.1 L631.8,922.7 L632.7,918.3 L633.5,913.8 L634.3,909.3 L635.1,904.8 L635.9,900.2 L636.8,895.5 L637.6,890.8 L638.4,885.9 L639.2,880.9 L640.0,875.7 L640.9,870.5 L641.7,865.1 L642.5,859.7 L643.3,854.2 L644.1,848.8 L644.9,843.4 L645.8,838.0 L646.5,833.1" stroke-dashoffset="0.0"/>
<path d="M646.2,834.7 L646.6,832.6 L647.4,827.2 L648.2,821.9 L649.0,816.5 L649.9,811.2 L650.7,805.9 L651.5,800.6 L652.3,795.4 L653.1,790.4 L653.9,785.6 L654.7,781.2 L655.5,776.9 L656.3,772.7 L657.1,768.7 L657.9,764.6 L658.7,760.5 L659.5,756.4 L660.3,752.3 L661.1,748.2 L661.9,744.1 L662.7,740.0 L663.1,738.0" stroke-dashoffset="0.0"/>
<path d="M662.9,739.3 L663.5,736.0 L664.3,732.0 L665.1,728.1 L665.9,724.2 L666.7,720.4 L667.5,716.6 L668.3,712.8 L669.1,709.0 L669.9,705.2 L670.7,701.4 L671.5,697.6 L672.3,693.7 L673.1,689.9 L673.9,685.9 L674.7,681.7 L675.5,677.4 L676.3,672.8 L677.1,668.2 L677.9,663.4 L678.7,658.6 L679.5,653.7 L679.8,652.2" stroke-dashoffset="0.0"/>
<path d="M679.5,653.8 L679.5,653.7 L680.3,648.7 L681.1,643.6 L681.9,638.4 L682.7,633.0 L683.5,627.5 L684.3,621.8 L685.1,616.0 L685.9,610.1 L686.7,604.1 L687.5,598.1 L688.3,592.1 L689.1,586.3 L689.9,580.6 L690.7,575.3 L691.5,570.3 L692.3,565.7 L693.1,561.4 L693.9,557.3 L694.7,553.3 L695.5,549.5 L695.9,547.8" stroke-dashoffset="0.0"/>
<path d="M695.6,548.9 L696.3,545.8 L697.1,542.4 L697.9,540.2 L698.7,538.9 L699.5,538.1 L700.3,537.7 L701.1,538.0 L702.0,538.7 L702.8,539.8 L703.6,541.4 L704.4,543.4 L705.2,546.1 L706.1,550.0 L706.9,554.0 L707.7,557.7 L708.5,561.4 L709.4,565.2 L710.2,569.2 L711.0,573.6 L711.8,578.2 L712.0,579.6" stroke-dashoffset="0.0"/>
<path d="M711.8,578.1 L711.8,578.2 L712.6,583.2 L713.5,588.5 L714.3,593.9 L715.1,599.5 L715.9,605.0 L716.8,610.4 L717.6,615.8 L718.4,620.9 L719.2,626.0 L720.0,630.9 L720.9,635.7 L721.7,640.4 L722.5,645.0 L723.3,649.6 L724.2,654.2 L725.0,658.8 L725.8,663.5 L726.6,668.3 L727.4,673.1 L728.3,677.9 L728.5,679.0" stroke-dashoffset="0.0"/>
<path d="M728.2,677.5 L728.3,677.9 L729.1,682.8 L729.9,687.8 L730.7,692.9 L731.6,698.2 L732.4,703.6 L733.2,709.2 L734.0,714.9 L734.8,720.6 L735.7,726.3 L736.5,732.0 L737.3,737.7 L738.1,743.4 L739.0,749.1 L739.8,754.7 L740.6,760.4 L741.4,766.0 L742.2,771.6 L743.1,777.2 L743.9,782.7 L744.7,788.1 L745.5,792.9" stroke-dashoffset="0.0"/>
<path d="M745.2,791.3 L745.5,793.3 L746.3,798.1 L747.1,802.7 L747.9,807.2 L748.7,811.4 L749.5,815.8 L750.2,820.1 L751.0,824.4 L751.8,828.7 L752.6,833.0 L753.4,837.3 L754.2,841.6 L755.0,845.9 L755.8,850.1 L756.5,854.2 L757.3,858.3 L758.1,862.3 L758.9,866.3 L759.7,870.3 L760.5,874.4 L761.3,878.4 L761.9,881.5" stroke-dashoffset="0.0"/>
<path d="M761.6,880.2 L762.1,882.4 L762.8,886.4 L763.6,890.4 L764.4,894.5 L765.2,898.7 L766.0,903.1 L766.8,907.8 L767.6,912.6 L768.4,917.5 L769.2,922.5 L769.9,927.7 L770.7,932.9 L771.5,938.1 L772.3,943.5 L773.1,949.1 L773.9,954.8 L774.7,960.7 L775.5,966.7 L776.2,972.9 L777.0,979.2 L777.8,985.5 L778.3,989.5" stroke-dashoffset="0.0"/>
<path d="M778.1,987.5 L778.6,991.8 L779.4,998.0 L780.2,1004.1 L781.0,1009.8 L781.8,1015.2 L782.5,1020.1 L783.3,1024.7 L784.1,1029.1 L784.9,1033.3 L785.7,1037.4 L786.5,1041.2 L787.3,1044.9 L788.1,1047.4 L788.9,1048.8 L789.6,1049.7 L790.4,1050.1 L791.2,1049.8 L792.0,1049.2 L792.8,1048.2 L793.6,1046.7 L794.4,1044.8 L794.8,1043.9" stroke-dashoffset="0.0"/>
<path d="M794.5,1044.6 L795.2,1042.4 L796.0,1038.8 L796.8,1034.9 L797.6,1031.3 L798.4,1027.8 L799.2,1024.1 L800.0,1020.3 L800.8,1016.2 L801.6,1011.9 L802.5,1007.3 L803.3,1002.3 L804.1,997.1 L804.9,991.8 L805.7,986.5 L806.5,981.2 L807.3,976.0 L808.1,970.9 L808.9,965.9 L809.7,961.0 L810.5,956.3 L811.2,952.2" stroke-dashoffset="0.0"/>
<path d="M810.9,953.6 L811.3,951.7 L812.1,947.2 L812.9,942.7 L813.7,938.3 L814.5,933.9 L815.3,929.4 L816.1,924.9 L816.9,920.3 L817.7,915.7 L818.5,911.0 L819.3,906.3 L820.1,901.5 L820.9,896.6 L821.7,891.6 L822.5,886.4 L823.3,881.1 L824.1,875.6 L824.9,870.1 L825.7,864.6 L826.5,859.1 L827.3,853.6 L827.6,851.4" stroke-dashoffset="0.0"/>
<path d="M827.4,853.2 L828.1,848.1 L828.9,842.6 L829.7,837.2 L830.5,831.7 L831.3,826.3 L832.1,820.9 L832.9,815.5 L833.7,810.1 L834.5,804.8 L835.3,799.6 L836.1,794.6 L836.9,789.9 L837.7,785.5 L838.5,781.2 L839.3,777.1 L840.1,772.9 L840.9,768.8 L841.7,764.6 L842.5,760.4 L843.3,756.3 L844.1,752.4" stroke-dashoffset="0.0"/>
<path d="M843.8,753.7 L844.1,752.1 L844.9,747.9 L845.7,743.8 L846.5,739.7 L847.3,735.7 L848.1,731.8 L848.9,727.9 L849.7,724.0 L850.5,720.1 L851.3,716.3 L852.1,712.4 L852.9,708.5 L853.7,704.7 L854.5,700.8 L855.3,696.9 L856.1,693.0 L856.9,688.8 L857.7,684.5 L858.5,680.1 L859.3,675.4 L860.1,670.7 L860.5,668.2" stroke-dashoffset="0.0"/>
<path d="M860.2,669.7 L860.9,665.8 L861.7,660.9 L862.5,655.9 L863.3,650.8 L864.1,645.6 L864.9,640.3 L865.7,634.8 L866.5,629.2 L867.3,623.4 L868.1,617.5 L868.9,611.4 L869.7,605.4 L870.4,599.2 L871.2,593.2 L872.0,587.2 L872.8,581.5 L873.6,576.2 L874.4,571.2 L875.2,566.5 L876.0,562.2 L876.8,558.0 L876.9,557.6" stroke-dashoffset="0.0"/>
<path d="M876.7,558.9 L876.8,558.0 L877.6,554.0 L878.4,550.1 L879.2,546.4 L880.0,542.9 L880.8,540.7 L881.6,539.5 L882.4,538.6 L883.2,538.2 L884.0,538.5 L884.8,539.1 L885.6,540.2 L886.4,541.7 L887.2,543.6 L888.0,546.1 L888.8,549.8 L889.5,553.8 L890.3,557.4 L891.1,560.9 L891.9,564.7 L892.7,568.5 L893.4,571.9" stroke-dashoffset="0.0"/>
<path d="M893.1,570.6 L893.5,572.7 L894.3,577.1 L895.1,581.8 L895.9,586.9 L896.6,592.2 L897.4,597.5 L898.2,603.0 L899.0,608.2 L899.8,613.5 L900.6,618.6 L901.4,623.5 L902.2,628.4 L903.0,633.1 L903.8,637.7 L904.5,642.2 L905.3,646.6 L906.1,651.1 L906.9,655.6 L907.7,660.1 L908.5,664.7 L909.2,669.1" stroke-dashoffset="0.0"/>
<path d="M909.0,667.6 L909.3,669.3 L910.1,674.0 L910.9,678.7 L911.7,683.5 L912.4,688.4 L913.2,693.4 L914.0,698.6 L914.8,703.9 L915.6,709.4 L916.4,714.9 L917.2,720.4 L918.0,726.0 L918.8,731.6 L919.6,737.1 L920.3,742.6 L921.1,748.1 L921.9,753.6 L922.7,759.1 L923.5,764.5 L924.3,770.0 L925.1,775.4 L925.9,780.8 L926.5,785.0" stroke-dashoffset="0.0"/>
<path d="M926.3,783.4 L926.7,786.0 L927.5,791.0 L928.3,795.7 L929.1,800.2 L929.9,804.5 L930.7,808.7 L931.5,812.9 L932.4,817.0 L933.2,821.2 L934.0,825.4 L934.8,829.6 L935.6,833.8 L936.4,838.0 L937.2,842.2 L938.1,846.3 L938.9,850.3 L939.7,854.2 L940.5,858.2 L941.3,862.1 L942.1,866.0 L942.9,869.9 L943.8,873.8 L943.8,873.9" stroke-dashoffset="0.0"/>
<path d="M943.5,872.7 L943.8,873.8 L944.6,877.6 L945.4,881.5 L946.2,885.4 L947.0,889.4 L947.8,893.4 L948.7,897.6 L949.5,902.0 L950.3,906.6 L951.1,911.4 L951.9,916.2 L952.7,921.1 L953.5,926.2 L954.4,931.2 L955.2,936.4 L956.0,941.7 L956.8,947.1 L957.6,952.7 L958.4,958.5 L959.2,964.5 L960.1,970.5 L960.9,976.6 L961.1,977.9" stroke-dashoffset="0.0"/>
<path d="M960.8,976.1 L960.9,976.6 L961.7,982.8 L962.5,988.9 L963.3,994.9 L964.1,1000.8 L965.0,1006.2 L965.8,1011.3 L966.6,1016.1 L967.4,1020.5 L968.2,1024.7 L969.0,1028.8 L969.8,1032.7 L970.7,1036.5 L971.5,1040.0 L972.3,1042.3 L973.1,1043.6 L973.9,1044.5 L974.7,1044.9 L975.5,1044.6 L976.3,1044.0 L977.1,1043.0 L978.0,1041.5 L978.3,1040.6" stroke-dashoffset="0.0"/>
<path d="M978.1,1041.2 L978.8,1039.6 L979.6,1037.1 L980.4,1033.5 L981.2,1029.5 L982.0,1026.0 L982.8,1022.5 L983.6,1018.8 L984.4,1015.0 L985.2,1010.9 L986.0,1006.5 L986.8,1001.9 L987.6,996.9 L988.4,991.6 L989.2,986.3 L990.1,981.0 L990.9,975.7 L991.7,970.5 L992.5,965.4 L993.3,960.5 L994.1,955.6 L994.9,950.9 L995.6,947.0" stroke-dashoffset="0.0"/>
<path d="M995.3,948.5 L995.7,946.4 L996.5,941.9 L997.3,937.5 L998.1,933.0 L998.9,928.6 L999.7,924.1 L1000.5,919.6 L1001.3,915.0 L1002.2,910.4 L1003.0,905.7 L1003.8,900.9 L1004.6,896.1 L1005.4,891.2 L1006.2,886.1 L1007.0,880.9 L1007.8,875.5 L1008.6,870.1 L1009.4,864.6 L1010.2,859.0 L1011.0,853.5 L1011.8,848.0 L1012.6,842.5 L1012.9,841.1" stroke-dashoffset="0.0"/>
<path d="M1012.6,842.8 L1012.6,842.5 L1013.4,837.1 L1014.3,831.6 L1015.1,826.2 L1015.9,820.8 L1016.7,815.4 L1017.5,809.9 L1018.3,804.6 L1019.1,799.3 L1019.9,794.2 L1020.7,789.4 L1021.5,784.9 L1022.3,780.5 L1023.1,776.3 L1023.9,772.2 L1024.7,768.0 L1025.5,763.9 L1026.3,759.7 L1027.2,755.5 L1028.0,751.4 L1028.8,747.2 L1029.6,743.1 L1030.1,740.3" stroke-dashoffset="0.0"/>
<path d="M1029.9,741.6 L1030.4,739.0 L1031.2,734.9 L1032.0,731.0 L1032.8,727.1 L1033.6,723.2 L1034.4,719.3 L1035.2,715.5 L1036.0,711.6 L1036.8,707.7 L1037.6,703.9 L1038.4,700.0 L1039.2,696.1 L1040.1,692.2 L1040.9,688.1 L1041.7,683.9 L1042.5,679.5 L1043.3,674.9 L1044.1,670.1 L1044.9,665.3 L1045.7,660.4 L1046.5,655.4 L1047.3,650.4 L1047.4,649.9" stroke-dashoffset="0.0"/>
<path d="M1047.1,651.4 L1047.3,650.4 L1048.1,645.2 L1048.9,639.9 L1049.7,634.5 L1050.5,628.9 L1051.3,623.1 L1052.1,617.2 L1052.9,611.2 L1053.8,605.1 L1054.6,599.0 L1055.4,593.0 L1056.2,587.0 L1057.0,581.2 L1057.8,575.9 L1058.6,570.8 L1059.4,566.1 L1060.2,561.8 L1061.0,557.6 L1061.8,553.6 L1062.6,549.7 L1063.4,546.0 L1064.2,542.5 L1064.7,541.3" stroke-dashoffset="0.0"/>
<path d="M1064.4,542.0 L1065.0,540.3 L1065.8,539.0 L1066.7,538.1 L1067.5,537.7 L1068.3,538.0 L1069.1,538.6 L1069.9,539.7 L1070.7,541.2 L1071.5,543.1 L1072.3,545.5 L1073.1,549.2 L1073.9,553.2 L1074.7,556.7 L1075.5,560.3 L1076.3,564.0 L1077.1,567.8 L1077.9,571.9 L1078.7,576.4 L1079.5,581.0 L1080.3,586.1 L1081.1,591.3 L1081.2,592.5" stroke-dashoffset="0.0"/>
<path d="M1081.0,590.8 L1081.1,591.3 L1081.9,596.7 L1082.7,602.1 L1083.5,607.4 L1084.3,612.6 L1085.1,617.7 L1085.9,622.7 L1086.7,627.6 L1087.5,632.3 L1088.3,636.9 L1089.1,641.4 L1089.9,645.9 L1090.7,650.3 L1091.5,654.8 L1092.3,659.3 L1093.1,663.9 L1093.9,668.5 L1094.7,673.1 L1095.5,677.8 L1096.3,682.6 L1097.1,687.5 L1097.7,691.3" stroke-dashoffset="0.0"/>
<path d="M1097.5,689.7 L1097.9,692.4 L1098.7,697.6 L1099.5,702.8 L1100.3,708.2 L1101.1,713.7 L1101.9,719.2 L1102.7,724.8 L1103.5,730.4 L1104.3,735.9 L1105.1,741.4 L1105.9,746.9 L1106.7,752.4 L1107.5,757.9 L1108.3,763.3 L1109.1,768.8 L1109.9,774.2 L1110.7,779.6 L1111.5,784.9 L1112.3,790.1 L1113.1,794.9 L1113.9,799.5 L1114.2,800.9" stroke-dashoffset="0.0"/>
<path d="M1113.9,799.5 L1114.7,803.9 L1115.5,808.1 L1116.3,812.2 L1117.1,816.4 L1117.9,820.6 L1118.7,824.8 L1119.5,829.0 L1120.3,833.2 L1121.1,837.4 L1121.9,841.5 L1122.7,845.7 L1123.5,849.7 L1124.3,853.7 L1125.1,857.7 L1125.9,861.6 L1126.7,865.5 L1127.5,869.3 L1128.3,873.2 L1129.1,877.1 L1129.9,881.0 L1130.6,884.7" stroke-dashoffset="0.0"/>
<path d="M1130.4,883.5 L1130.7,884.9 L1131.5,888.8 L1132.3,892.8 L1133.1,896.8 L1133.9,901.1 L1134.7,905.6 L1135.5,910.2 L1136.3,915.0 L1137.1,919.8 L1137.9,924.8 L1138.7,929.8 L1139.5,934.9 L1140.3,940.1 L1141.1,945.4 L1141.9,950.9 L1142.7,956.5 L1143.5,962.3 L1144.2,968.2 L1145.0,974.3 L1145.8,980.4 L1146.6,986.6 L1147.1,990.0" stroke-dashoffset="0.0"/>
<path d="M1146.8,988.1 L1147.4,992.7 L1148.2,998.7 L1149.0,1004.5 L1149.8,1009.9 L1150.6,1015.0 L1151.4,1019.7 L1152.2,1024.0 L1153.0,1028.2 L1153.8,1032.3 L1154.6,1036.2 L1155.4,1040.0 L1156.2,1043.5 L1157.0,1045.7 L1157.8,1047.0 L1158.6,1047.9 L1159.4,1048.3 L1160.2,1048.0 L1161.0,1047.3 L1161.8,1046.2 L1162.6,1044.6 L1163.4,1042.6 L1163.5,1042.1" stroke-dashoffset="0.0"/>
<path d="M1163.3,1042.8 L1163.4,1042.6 L1164.2,1039.9 L1165.0,1036.0 L1165.8,1031.9 L1166.6,1028.3 L1167.4,1024.5 L1168.2,1020.7 L1169.0,1016.6 L1169.8,1012.3 L1170.6,1007.6 L1171.4,1002.6 L1172.2,997.3 L1173.0,991.8 L1173.8,986.2 L1174.6,980.7 L1175.4,975.2 L1176.1,969.9 L1176.9,964.7 L1177.7,959.6 L1178.5,954.6 L1179.3,949.8 L1180.0,945.8" stroke-dashoffset="0.0"/>
<path d="M1179.8,947.3 L1180.1,945.1 L1180.9,940.5 L1181.7,935.9 L1182.5,931.3 L1183.3,926.6 L1184.1,921.9 L1184.9,917.1 L1185.7,912.3 L1186.5,907.5 L1187.3,902.5 L1188.1,897.5 L1188.9,892.4 L1189.7,887.1 L1190.5,881.6 L1191.3,876.0 L1192.1,870.3 L1192.9,864.6 L1193.7,858.8 L1194.5,853.1 L1195.3,847.4 L1196.1,841.7 L1196.5,838.8" stroke-dashoffset="0.0"/>
<path d="M1196.2,840.6 L1196.9,836.0 L1197.7,830.3 L1198.5,824.6 L1199.3,819.0 L1200.1,813.4 L1200.8,807.7 L1201.6,802.2 L1202.4,796.8 L1203.2,791.6 L1204.0,786.7 L1204.9,782.1 L1205.7,777.6 L1206.5,773.3 L1207.3,769.0 L1208.1,764.7 L1208.9,760.3 L1209.8,756.0 L1210.6,751.7 L1211.4,747.3 L1212.2,743.0 L1212.9,739.3" stroke-dashoffset="0.0"/>
<path d="M1212.7,740.6 L1213.0,738.7 L1213.9,734.5 L1214.7,730.3 L1215.5,726.3 L1216.3,722.2 L1217.1,718.2 L1217.9,714.2 L1218.8,710.1 L1219.6,706.1 L1220.4,702.1 L1221.2,698.1 L1222.0,694.0 L1222.8,689.9 L1223.7,685.7 L1224.5,681.2 L1225.3,676.6 L1226.1,671.7 L1226.9,666.8 L1227.7,661.7 L1228.6,656.6 L1229.4,651.4 L1229.4,651.2" stroke-dashoffset="0.0"/>
<path d="M1229.1,652.8 L1229.4,651.4 L1230.2,646.1 L1231.0,640.6 L1231.8,635.1 L1232.6,629.4 L1233.5,623.4 L1234.3,617.4 L1235.1,611.2 L1235.9,604.8 L1236.7,598.5 L1237.5,592.1 L1238.4,585.9 L1239.2,579.8 L1240.0,574.0 L1240.8,568.7 L1241.6,563.7 L1242.4,559.1 L1243.3,554.7 L1244.1,550.5 L1244.9,546.4 L1245.7,542.5 L1245.8,541.8" stroke-dashoffset="0.0"/>
<path d="M1245.6,543.0 L1245.7,542.5 L1246.5,538.8 L1247.3,536.3 L1248.2,534.9 L1249.0,534.0 L1249.8,533.6 L1250.6,533.9 L1251.4,534.5 L1252.2,535.6 L1253.0,537.1 L1253.8,539.0 L1254.6,541.5 L1255.4,545.2 L1256.2,549.2 L1257.1,552.9 L1257.9,556.5 L1258.7,560.2 L1259.5,564.1 L1260.3,568.2 L1261.1,572.7 L1261.9,577.4 L1262.7,582.2" stroke-dashoffset="0.0"/>
<path d="M1262.4,580.6 L1262.7,582.5 L1263.5,587.8 L1264.3,593.2 L1265.1,598.7 L1265.9,604.1 L1266.7,609.4 L1267.6,614.5 L1268.4,619.6 L1269.2,624.5 L1270.0,629.3 L1270.8,633.9 L1271.6,638.5 L1272.4,643.0 L1273.2,647.5 L1274.0,652.1 L1274.8,656.6 L1275.6,661.2 L1276.4,665.9 L1277.2,670.6 L1278.1,675.4 L1278.8,679.5" stroke-dashoffset="0.0"/>
<path d="M1278.5,678.0 L1278.9,680.2 L1279.7,685.1 L1280.5,690.1 L1281.3,695.3 L1282.1,700.6 L1282.9,706.1 L1283.7,711.7 L1284.5,717.2 L1285.3,722.9 L1286.1,728.5 L1286.9,734.1 L1287.7,739.7 L1288.6,745.2 L1289.4,750.8 L1290.2,756.3 L1291.0,761.8 L1291.8,767.3 L1292.6,772.9 L1293.4,778.3 L1294.2,783.7 L1295.0,788.9 L1295.3,791.0" stroke-dashoffset="0.0"/>
<path d="M1295.1,789.4 L1295.8,793.8 L1296.6,798.4 L1297.4,802.8 L1298.2,807.1 L1299.0,811.3 L1299.8,815.5 L1300.6,819.8 L1301.4,824.0 L1302.2,828.3 L1303.0,832.5 L1303.8,836.7 L1304.6,840.9 L1305.4,845.1 L1306.2,849.2 L1307.0,853.3 L1307.8,857.2 L1308.5,861.2 L1309.3,865.1 L1310.1,869.1 L1310.9,873.0 L1311.7,877.0 L1312.0,878.0" stroke-dashoffset="0.0"/>
<path d="M1311.7,876.8 L1311.7,877.0 L1312.5,880.9 L1313.3,884.8 L1314.1,888.8 L1314.9,892.8 L1315.7,896.9 L1316.5,901.2 L1317.3,905.7 L1318.1,910.4 L1318.9,915.2 L1319.7,920.1 L1320.5,925.1 L1321.3,930.2 L1322.1,935.4 L1322.9,940.6 L1323.7,946.0 L1324.5,951.5 L1325.3,957.2 L1326.1,963.1 L1326.9,969.1 L1327.7,975.2 L1328.4,981.4 L1328.5,982.2" stroke-dashoffset="0.0"/>
<path d="M1328.3,980.3 L1328.4,981.4 L1329.2,987.7 L1330.0,993.8 L1330.8,999.9 L1331.6,1005.8 L1332.4,1011.2 L1333.2,1016.4 L1334.0,1021.1 L1334.8,1025.6 L1335.6,1029.8 L1336.4,1033.9 L1337.2,1037.9 L1338.0,1041.7 L1338.8,1045.2 L1339.6,1047.5 L1340.4,1048.8 L1341.2,1049.7 L1342.0,1050.1 L1342.8,1049.8 L1343.6,1049.2 L1344.4,1048.1 L1345.2,1046.6" stroke-dashoffset="0.0"/>
<path d="M1344.9,1047.1 L1345.2,1046.5 L1346.0,1044.6 L1346.8,1042.0 L1347.6,1038.2 L1348.4,1034.2 L1349.2,1030.6 L1350.0,1026.9 L1350.8,1023.1 L1351.6,1019.2 L1352.4,1015.0 L1353.2,1010.4 L1354.0,1005.6 L1354.8,1000.4 L1355.6,995.1 L1356.4,989.6 L1357.2,984.1 L1358.0,978.7 L1358.8,973.4 L1359.6,968.2 L1360.4,963.1 L1361.2,958.2 L1361.8,954.6" stroke-dashoffset="0.0"/>
<path d="M1361.5,956.1 L1362.0,953.4 L1362.8,948.7 L1363.5,944.1 L1364.3,939.6 L1365.1,935.0 L1365.9,930.5 L1366.7,925.8 L1367.5,921.2 L1368.3,916.4 L1369.1,911.7 L1369.9,906.9 L1370.7,902.0 L1371.5,897.0 L1372.3,891.9 L1373.1,886.6 L1373.9,881.2 L1374.7,875.6 L1375.5,870.0 L1376.3,864.3 L1377.1,858.7 L1377.9,853.0 L1378.3,850.0" stroke-dashoffset="0.0"/>
<path d="M1378.1,851.8 L1378.7,847.3 L1379.5,841.7 L1380.3,836.1 L1381.1,830.5 L1381.9,825.0 L1382.7,819.4 L1383.5,813.8 L1384.3,808.3 L1385.1,802.9 L1385.9,797.5 L1386.7,792.4 L1387.4,787.6 L1388.1,783.0 L1388.7,778.6 L1389.4,774.4 L1390.0,770.1 L1390.7,765.9 L1391.2,763.3" stroke-dashoffset="0.0"/>
</g>
<g stroke="#ff00ff" stroke-width="6" stroke-dasharray="23 5 5 5 5 5">
<path d="M261.2,962.0 L261.6,959.7 L262.4,955.4 L263.3,951.2 L264.2,947.0 L265.1,942.8 L266.0,938.7 L266.9,934.6 L267.8,930.4 L268.7,926.2 L269.6,921.9 L270.5,917.6 L271.4,913.2 L272.3,908.8 L273.2,904.2 L274.1,899.6 L275.0,894.8 L275.9,889.8 L276.3,887.6" stroke-dashoffset="13.2"/>
<path d="M276.0,889.0 L276.8,884.7 L277.7,879.5 L278.6,874.2 L279.5,868.9 L280.4,863.6 L281.3,858.4 L282.2,853.1 L283.1,847.9 L284.0,842.8 L284.9,837.7 L285.8,832.7 L286.7,827.7 L287.6,822.7 L288.5,817.8 L289.4,812.9 L290.3,808.1 L291.2,803.3 L292.1,798.7 L293.0,794.2 L293.3,792.7" stroke-dashoffset="0.0"/>
<path d="M293.1,793.9 L293.9,790.1 L294.7,786.3 L295.5,782.6 L296.3,779.0 L297.1,775.5 L297.9,771.8 L298.6,768.2 L299.4,764.5 L300.2,760.9 L301.0,757.2 L301.8,753.5 L302.6,749.8 L303.4,746.0 L304.2,742.3 L305.0,738.5 L305.8,734.8 L306.6,731.1 L307.4,727.4 L308.2,723.6 L309.0,719.9 L309.8,716.1 L310.4,713.3" stroke-dashoffset="0.0"/>
<path d="M310.1,714.5 L310.5,712.4 L311.3,708.5 L312.1,704.7 L312.9,700.7 L313.7,696.5 L314.5,692.1 L315.3,687.6 L316.1,682.9 L316.9,678.3 L317.7,673.6 L318.5,668.9 L319.3,664.2 L320.1,659.4 L320.9,654.6 L321.7,649.6 L322.5,644.6 L323.2,639.5 L324.0,634.4 L324.8,629.2 L325.6,623.9 L326.4,618.7 L327.2,613.5 L327.3,612.9" stroke-dashoffset="0.0"/>
<path d="M327.1,614.6 L327.2,613.5 L328.0,608.3 L328.8,603.1 L329.6,598.0 L330.4,593.0 L331.2,588.2 L332.0,583.6 L332.8,579.3 L333.6,575.2 L334.4,571.4 L335.1,568.5 L335.9,566.1 L336.7,564.4 L337.5,563.2 L338.3,562.4 L339.1,562.0 L339.9,562.4 L340.8,563.1 L341.6,564.2 L342.4,565.9 L343.2,568.6 L344.1,571.7 L344.2,572.4" stroke-dashoffset="0.0"/>
<path d="M344.0,571.4 L344.1,571.7 L344.9,575.0 L345.7,578.7 L346.5,582.3 L347.4,586.0 L348.2,590.1 L349.0,594.4 L349.8,598.9 L350.7,603.5 L351.5,608.2 L352.3,612.8 L353.2,617.4 L354.0,621.8 L354.8,626.1 L355.6,630.4 L356.5,634.6 L357.3,638.8 L358.1,642.9 L358.9,647.0 L359.8,651.0 L360.6,655.0 L361.2,658.1" stroke-dashoffset="0.0"/>
<path d="M361.0,656.9 L361.4,659.1 L362.2,663.1 L363.1,667.2 L363.9,671.4 L364.7,675.6 L365.5,679.9 L366.4,684.3 L367.2,688.7 L368.0,693.3 L368.8,698.0 L369.7,702.8 L370.5,707.8 L371.3,712.8 L372.1,718.0 L373.0,723.1 L373.8,728.3 L374.6,733.5 L375.4,738.6 L376.3,743.6 L377.1,748.6 L377.9,753.6 L378.2,755.2" stroke-dashoffset="0.0"/>
<path d="M377.9,753.7 L378.7,758.5 L379.6,763.4 L380.4,768.2 L381.2,773.0 L382.0,777.8 L382.9,782.5 L383.7,787.2 L384.5,791.8 L385.3,796.2 L386.1,800.4 L386.8,804.2 L387.6,807.9 L388.4,811.4 L389.2,814.9 L390.0,818.4 L390.7,821.9 L391.5,825.5 L392.3,829.0 L393.1,832.6 L393.9,836.2 L394.6,839.8 L395.1,842.2" stroke-dashoffset="0.0"/>
<path d="M394.9,841.0 L395.4,843.4 L396.2,847.1 L397.0,850.7 L397.8,854.4 L398.5,858.0 L399.3,861.7 L400.1,865.3 L400.9,868.9 L401.7,872.6 L402.4,876.2 L403.2,879.9 L404.0,883.6 L404.8,887.4 L405.6,891.2 L406.3,895.3 L407.1,899.6 L407.9,903.9 L408.7,908.4 L409.4,913.0 L410.2,917.5 L411.0,922.1 L411.8,926.7 L412.4,930.3" stroke-dashoffset="0.0"/>
<path d="M412.1,928.9 L412.6,931.3 L413.3,936.0 L414.1,940.8 L414.9,945.6 L415.7,950.5 L416.5,955.5 L417.2,960.6 L418.0,965.7 L418.8,970.8 L419.6,975.8 L420.4,980.9 L421.1,986.0 L421.9,991.1 L422.7,996.0 L423.5,1000.8 L424.3,1005.4 L425.0,1009.8 L425.8,1013.9 L426.6,1018.0 L427.4,1021.5 L428.2,1024.3 L428.9,1026.5 L429.6,1028.0" stroke-dashoffset="0.0"/>
<path d="M429.4,1027.5 L429.7,1028.1 L430.5,1029.3 L431.3,1030.0 L432.1,1030.4 L432.8,1030.0 L433.6,1029.2 L434.4,1028.1 L435.2,1026.3 L436.0,1023.4 L436.8,1020.2 L437.6,1016.7 L438.4,1013.0 L439.2,1009.2 L440.0,1005.3 L440.8,1001.0 L441.6,996.5 L442.3,991.9 L443.1,987.0 L443.9,982.2 L444.7,977.5 L445.5,972.8 L446.2,968.6" stroke-dashoffset="0.0"/>
<path d="M446.0,970.0 L446.3,968.3 L447.1,963.8 L447.9,959.4 L448.7,955.0 L449.5,950.7 L450.3,946.5 L451.1,942.3 L451.9,938.2 L452.6,934.0 L453.4,929.8 L454.2,925.6 L455.0,921.3 L455.8,917.0 L456.6,912.6 L457.4,908.1 L458.2,903.5 L459.0,898.9 L459.8,894.1 L460.6,889.2 L461.4,884.1 L462.2,878.9 L462.9,873.6 L463.7,868.2 L464.5,862.9 L464.6,862.8" stroke-dashoffset="0.0"/>
<path d="M464.3,864.5 L464.5,862.9 L465.3,857.6 L466.1,852.3 L466.9,847.1 L467.7,841.9 L468.5,836.7 L469.3,831.6 L470.1,826.6 L470.9,821.6 L471.7,816.6 L472.5,811.6 L473.2,806.8 L474.0,801.9 L474.8,797.2 L475.6,792.6 L476.4,788.3 L477.2,784.3 L478.0,780.5 L478.8,776.9 L479.7,773.3 L480.2,770.6" stroke-dashoffset="0.0"/>
<path d="M480.0,771.7 L480.5,769.7 L481.3,766.0 L482.1,762.3 L482.9,758.6 L483.7,754.9 L484.5,751.2 L485.3,747.5 L486.1,743.8 L486.9,740.0 L487.7,736.2 L488.6,732.4 L489.4,728.7 L490.2,724.9 L491.0,721.2 L491.8,717.4 L492.6,713.6 L493.4,709.8 L494.2,706.0 L495.0,702.2 L495.8,698.3 L496.6,694.2 L496.9,692.9" stroke-dashoffset="0.0"/>
<path d="M496.6,694.3 L496.6,694.2 L497.4,689.9 L498.3,685.4 L499.1,680.8 L499.9,676.1 L500.7,671.5 L501.5,666.7 L502.3,662.0 L503.1,657.2 L503.9,652.4 L504.7,647.5 L505.5,642.6 L506.3,637.5 L507.2,632.3 L508.0,627.1 L508.8,621.9 L509.6,616.6 L510.4,611.4 L511.2,606.1 L512.0,600.9 L512.8,595.6 L513.5,591.3" stroke-dashoffset="0.0"/>
<path d="M513.2,592.9 L513.6,590.5 L514.4,585.5 L515.2,580.7 L516.0,576.1 L516.9,571.8 L517.7,567.6 L518.5,563.8 L519.3,560.9 L520.1,558.6 L520.9,556.9 L521.7,555.7 L522.5,554.9 L523.3,554.5 L524.1,554.9 L524.9,555.7 L525.8,556.7 L526.6,558.5 L527.4,561.2 L528.2,564.3 L529.0,567.8 L529.8,571.4 L530.1,572.9" stroke-dashoffset="0.0"/>
<path d="M529.9,571.7 L530.6,575.1 L531.4,578.9 L532.2,583.0 L533.0,587.4 L533.9,591.9 L534.7,596.7 L535.5,601.4 L536.3,606.0 L537.1,610.6 L537.9,615.0 L538.7,619.4 L539.5,623.7 L540.3,627.9 L541.1,632.1 L542.0,636.3 L542.8,640.4 L543.6,644.4 L544.4,648.5 L545.2,652.6 L546.0,656.7 L546.8,660.5" stroke-dashoffset="0.0"/>
<path d="M546.5,659.2 L546.8,660.9 L547.6,665.1 L548.4,669.4 L549.2,673.7 L550.1,678.1 L550.9,682.7 L551.7,687.3 L552.5,692.1 L553.3,697.0 L554.1,702.0 L554.9,707.2 L555.7,712.4 L556.5,717.6 L557.3,722.8 L558.2,728.0 L559.0,733.1 L559.8,738.2 L560.6,743.2 L561.4,748.2 L562.2,753.2 L563.0,758.1 L563.4,760.3" stroke-dashoffset="0.0"/>
<path d="M563.1,758.8 L563.8,763.0 L564.6,767.8 L565.4,772.6 L566.3,777.4 L567.1,782.0 L567.9,786.6 L568.7,790.9 L569.5,795.0 L570.3,798.7 L571.1,802.4 L571.9,805.9 L572.7,809.4 L573.5,812.9 L574.3,816.5 L575.2,820.1 L576.0,823.7 L576.8,827.3 L577.6,831.0 L578.4,834.6 L579.2,838.3 L580.0,842.0" stroke-dashoffset="0.0"/>
<path d="M579.8,840.8 L580.0,842.0 L580.8,845.7 L581.6,849.4 L582.4,853.0 L583.2,856.7 L584.0,860.3 L584.9,864.0 L585.7,867.7 L586.5,871.4 L587.3,875.1 L588.1,878.9 L588.9,882.8 L589.7,886.8 L590.5,891.1 L591.3,895.5 L592.1,900.0 L592.9,904.6 L593.7,909.1 L594.6,913.8 L595.4,918.4 L596.2,923.0 L596.6,925.7" stroke-dashoffset="0.0"/>
<path d="M596.4,924.2 L597.0,927.8 L597.8,932.5 L598.6,937.4 L599.4,942.4 L600.2,947.4 L601.0,952.5 L601.8,957.6 L602.6,962.8 L603.5,967.9 L604.3,973.0 L605.1,978.2 L605.9,983.3 L606.7,988.3 L607.5,993.2 L608.3,997.8 L609.1,1002.2 L609.9,1006.4 L610.7,1010.5 L611.5,1014.2 L612.3,1017.0 L613.2,1019.2 L613.2,1019.4" stroke-dashoffset="0.0"/>
<path d="M613.0,1018.8 L613.2,1019.2 L614.0,1020.9 L614.8,1022.0 L615.6,1022.8 L616.4,1023.2 L617.2,1022.8 L618.0,1022.0 L618.9,1021.0 L619.7,1019.2 L620.5,1016.5 L621.4,1013.4 L622.2,1010.0 L623.0,1006.4 L623.9,1002.7 L624.7,998.9 L625.5,994.8 L626.3,990.5 L627.2,985.9 L628.0,981.2 L628.8,976.5 L629.7,971.9 L629.9,970.7" stroke-dashoffset="0.0"/>
<path d="M629.6,972.1 L629.7,971.9 L630.5,967.4 L631.3,963.0 L632.1,958.6 L633.0,954.3 L633.8,950.1 L634.6,945.9 L635.5,941.8 L636.3,937.7 L637.1,933.7 L637.9,929.6 L638.8,925.6 L639.6,921.5 L640.4,917.3 L641.3,913.1 L642.1,908.8 L642.9,904.5 L643.8,900.1 L644.6,895.6 L645.4,891.0 L646.2,886.3 L646.5,884.7" stroke-dashoffset="0.0"/>
<path d="M646.2,886.2 L647.1,881.3 L647.9,876.3 L648.7,871.2 L649.6,866.0 L650.4,860.8 L651.2,855.7 L652.0,850.5 L652.9,845.4 L653.7,840.3 L654.5,835.3 L655.4,830.3 L656.2,825.4 L657.0,820.5 L657.8,815.7 L658.7,810.9 L659.5,806.1 L660.3,801.3 L661.2,796.7 L662.0,792.2 L662.8,787.8 L663.1,786.2" stroke-dashoffset="0.0"/>
<path d="M662.9,787.5 L663.6,783.8 L664.4,780.1 L665.2,776.4 L665.9,772.9 L666.7,769.5 L667.5,765.9 L668.3,762.3 L669.1,758.8 L669.9,755.2 L670.6,751.6 L671.4,748.0 L672.2,744.3 L673.0,740.7 L673.8,737.0 L674.6,733.3 L675.4,729.7 L676.1,726.0 L676.9,722.4 L677.7,718.7 L678.5,715.1 L679.3,711.4 L679.8,709.2" stroke-dashoffset="0.0"/>
<path d="M679.5,710.4 L680.1,707.7 L680.8,704.0 L681.6,700.2 L682.4,696.4 L683.2,692.4 L684.0,688.1 L684.8,683.8 L685.6,679.3 L686.3,674.7 L687.1,670.1 L687.9,665.6 L688.7,660.9 L689.5,656.3 L690.3,651.6 L691.1,646.8 L691.8,642.0 L692.6,637.1 L693.4,632.0 L694.2,627.0 L695.0,621.9 L695.8,616.8 L695.9,615.8" stroke-dashoffset="0.0"/>
<path d="M695.6,617.5 L695.8,616.8 L696.5,611.6 L697.3,606.5 L698.1,601.4 L698.9,596.3 L699.7,591.4 L700.5,586.5 L701.3,581.9 L702.0,577.5 L702.8,573.3 L703.6,569.2 L704.4,565.6 L705.2,562.8 L706.0,560.5 L706.7,558.9 L707.5,557.8 L708.3,557.0 L709.1,556.6 L709.9,557.0 L710.7,557.8 L711.6,558.9 L712.0,559.9" stroke-dashoffset="0.0"/>
<path d="M711.8,559.4 L712.4,560.6 L713.2,563.4 L714.0,566.6 L714.8,570.0 L715.7,573.7 L716.5,577.4 L717.3,581.3 L718.1,585.4 L718.9,589.9 L719.7,594.5 L720.6,599.3 L721.4,604.0 L722.2,608.7 L723.0,613.3 L723.8,617.8 L724.7,622.3 L725.5,626.6 L726.3,630.9 L727.1,635.2 L727.9,639.4 L728.5,641.9" stroke-dashoffset="0.0"/>
<path d="M728.2,640.7 L728.8,643.5 L729.6,647.6 L730.4,651.7 L731.2,655.9 L732.0,660.0 L732.9,664.2 L733.7,668.5 L734.5,672.8 L735.3,677.2 L736.1,681.7 L737.0,686.3 L737.8,691.0 L738.6,695.8 L739.4,700.8 L740.2,705.9 L741.1,711.1 L741.9,716.4 L742.7,721.6 L743.5,726.9 L744.3,732.1 L745.1,737.3 L745.5,739.2" stroke-dashoffset="0.0"/>
<path d="M745.2,737.7 L746.0,742.5 L746.8,747.6 L747.6,752.6 L748.4,757.6 L749.2,762.6 L750.1,767.5 L750.9,772.4 L751.7,777.3 L752.5,782.1 L753.3,786.8 L754.2,791.4 L754.9,795.8 L755.7,799.9 L756.5,803.7 L757.3,807.4 L758.1,811.0 L758.9,814.5 L759.7,818.1 L760.5,821.8 L761.3,825.4 L761.9,828.1" stroke-dashoffset="0.0"/>
<path d="M761.6,827.0 L762.1,829.0 L762.9,832.7 L763.7,836.4 L764.5,840.1 L765.3,843.8 L766.1,847.5 L766.8,851.3 L767.6,855.0 L768.4,858.7 L769.2,862.4 L770.0,866.1 L770.8,869.8 L771.6,873.6 L772.4,877.3 L773.2,881.1 L774.0,884.9 L774.8,888.8 L775.6,892.9 L776.4,897.2 L777.2,901.6 L778.0,906.2 L778.3,908.3" stroke-dashoffset="0.0"/>
<path d="M778.1,906.8 L778.8,910.8 L779.5,915.5 L780.3,920.1 L781.1,924.8 L781.9,929.5 L782.7,934.3 L783.5,939.2 L784.3,944.1 L785.1,949.1 L785.9,954.2 L786.7,959.4 L787.5,964.6 L788.3,969.7 L789.1,974.9 L789.9,980.1 L790.7,985.3 L791.4,990.5 L792.2,995.5 L793.0,1000.5 L793.8,1005.2 L794.6,1009.7 L794.8,1010.4" stroke-dashoffset="0.0"/>
<path d="M794.5,1009.0 L794.6,1009.7 L795.4,1013.9 L796.2,1018.1 L797.0,1021.8 L797.8,1024.6 L798.6,1026.9 L799.4,1028.6 L800.2,1029.7 L801.0,1030.5 L801.8,1030.9 L802.6,1030.5 L803.4,1029.7 L804.2,1028.6 L805.0,1026.7 L805.8,1023.8 L806.7,1020.6 L807.5,1017.0 L808.3,1013.3 L809.1,1009.4 L809.9,1005.5 L810.7,1001.2 L811.2,998.6" stroke-dashoffset="0.0"/>
<path d="M810.9,1000.0 L811.5,996.6 L812.4,991.9 L813.2,987.0 L814.0,982.1 L814.8,977.3 L815.6,972.6 L816.4,968.0 L817.2,963.5 L818.1,959.0 L818.9,954.6 L819.7,950.3 L820.5,946.0 L821.3,941.8 L822.1,937.5 L822.9,933.3 L823.8,929.1 L824.6,924.8 L825.4,920.5 L826.2,916.1 L827.0,911.6 L827.6,908.3" stroke-dashoffset="0.0"/>
<path d="M827.4,909.7 L827.8,907.1 L828.6,902.5 L829.5,897.8 L830.3,892.9 L831.1,887.9 L831.9,882.8 L832.7,877.5 L833.5,872.2 L834.4,866.8 L835.2,861.4 L836.0,856.0 L836.8,850.6 L837.6,845.3 L838.4,840.1 L839.2,834.9 L840.1,829.7 L840.9,824.6 L841.7,819.5 L842.5,814.5 L843.3,809.5 L844.1,805.0" stroke-dashoffset="0.0"/>
<path d="M843.8,806.5 L844.1,804.5 L844.9,799.6 L845.8,794.9 L846.6,790.2 L847.4,785.8 L848.1,781.8 L848.9,778.0 L849.7,774.3 L850.5,770.7 L851.3,767.0 L852.1,763.3 L852.9,759.6 L853.7,755.8 L854.4,752.1 L855.2,748.3 L856.0,744.6 L856.8,740.8 L857.6,736.9 L858.4,733.1 L859.2,729.3 L859.9,725.5 L860.5,722.9" stroke-dashoffset="0.0"/>
<path d="M860.2,724.1 L860.7,721.7 L861.5,717.9 L862.3,714.1 L863.1,710.3 L863.9,706.4 L864.7,702.6 L865.4,698.7 L866.2,694.7 L867.0,690.6 L867.8,686.2 L868.6,681.7 L869.4,677.1 L870.2,672.3 L871.0,667.6 L871.7,662.8 L872.5,658.0 L873.3,653.2 L874.1,648.3 L874.9,643.4 L875.7,638.3 L876.5,633.2 L876.9,630.2" stroke-dashoffset="0.0"/>
<path d="M876.7,631.8 L877.2,628.0 L878.0,622.7 L878.8,617.4 L879.6,612.1 L880.4,606.8 L881.2,601.5 L882.0,596.1 L882.7,590.8 L883.5,585.6 L884.3,580.6 L885.1,575.7 L885.9,571.1 L886.7,566.7 L887.5,562.5 L888.3,558.6 L889.0,555.7 L889.8,553.3 L890.6,551.6 L891.4,550.4 L892.2,549.6 L893.0,549.2 L893.4,549.4" stroke-dashoffset="0.0"/>
<path d="M893.1,549.3 L893.8,549.6 L894.6,550.4 L895.4,551.5 L896.2,553.3 L897.0,556.2 L897.8,559.4 L898.6,562.9 L899.4,566.7 L900.2,570.5 L901.0,574.4 L901.8,578.7 L902.6,583.2 L903.4,587.9 L904.2,592.8 L905.1,597.7 L905.9,602.5 L906.7,607.2 L907.5,611.8 L908.3,616.3 L909.1,620.8 L909.2,621.7" stroke-dashoffset="0.0"/>
<path d="M909.0,620.3 L909.1,620.8 L909.9,625.2 L910.7,629.5 L911.5,633.8 L912.3,638.0 L913.1,642.2 L913.9,646.4 L914.7,650.6 L915.5,654.9 L916.3,659.2 L917.1,663.6 L917.9,668.0 L918.7,672.5 L919.5,677.1 L920.4,681.7 L921.2,686.5 L922.0,691.5 L922.8,696.6 L923.6,701.8 L924.4,707.1 L925.2,712.5 L926.0,717.8 L926.5,721.4" stroke-dashoffset="0.0"/>
<path d="M926.3,719.7 L926.8,723.2 L927.6,728.6 L928.4,733.9 L929.2,739.2 L930.0,744.4 L930.8,749.5 L931.6,754.7 L932.4,759.7 L933.2,764.8 L934.0,769.8 L934.8,774.7 L935.7,779.7 L936.5,784.5 L937.3,789.2 L938.1,793.7 L938.9,797.9 L939.7,801.8 L940.4,805.5 L941.2,809.2 L942.0,812.8 L942.8,816.5 L943.6,820.2 L943.8,820.9" stroke-dashoffset="0.0"/>
<path d="M943.5,819.7 L943.6,820.2 L944.4,823.9 L945.2,827.6 L946.0,831.4 L946.8,835.1 L947.6,838.9 L948.4,842.7 L949.2,846.5 L950.0,850.3 L950.8,854.1 L951.6,857.9 L952.4,861.7 L953.2,865.5 L954.0,869.3 L954.8,873.1 L955.6,876.9 L956.4,880.8 L957.2,884.7 L958.0,888.7 L958.8,892.9 L959.5,897.3 L960.3,901.8 L961.1,906.0" stroke-dashoffset="0.0"/>
<path d="M960.8,904.5 L961.1,906.5 L961.9,911.2 L962.7,916.0 L963.5,920.7 L964.3,925.5 L965.1,930.3 L965.9,935.2 L966.7,940.2 L967.5,945.2 L968.3,950.3 L969.1,955.5 L969.9,960.8 L970.7,966.1 L971.5,971.4 L972.3,976.7 L973.1,982.0 L973.9,987.3 L974.7,992.6 L975.5,997.8 L976.3,1002.8 L977.1,1007.6 L977.8,1012.2 L978.3,1014.8" stroke-dashoffset="0.0"/>
<path d="M978.1,1013.4 L978.6,1016.5 L979.4,1020.8 L980.2,1024.6 L981.0,1027.5 L981.8,1029.8 L982.6,1031.5 L983.4,1032.7 L984.2,1033.5 L985.0,1033.9 L985.8,1033.5 L986.6,1032.7 L987.5,1031.6 L988.3,1029.7 L989.1,1026.8 L989.9,1023.6 L990.7,1020.0 L991.6,1016.2 L992.4,1012.4 L993.2,1008.4 L994.0,1004.2 L994.8,999.6 L995.6,995.3" stroke-dashoffset="0.0"/>
<path d="M995.3,996.7 L995.7,994.9 L996.5,989.9 L997.3,985.0 L998.1,980.3 L998.9,975.5 L999.8,970.9 L1000.6,966.4 L1001.4,961.9 L1002.2,957.5 L1003.0,953.2 L1003.8,948.9 L1004.7,944.7 L1005.5,940.5 L1006.3,936.2 L1007.1,932.0 L1007.9,927.7 L1008.8,923.4 L1009.6,919.0 L1010.4,914.5 L1011.2,910.0 L1012.0,905.4 L1012.9,900.7" stroke-dashoffset="0.0"/>
<path d="M1012.6,902.1 L1012.9,900.6 L1013.7,895.8 L1014.5,890.8 L1015.3,885.6 L1016.1,880.4 L1017.0,875.0 L1017.8,869.6 L1018.6,864.2 L1019.4,858.8 L1020.2,853.4 L1021.0,848.1 L1021.9,842.9 L1022.7,837.7 L1023.5,832.5 L1024.3,827.4 L1025.1,822.3 L1026.0,817.3 L1026.8,812.3 L1027.6,807.3 L1028.4,802.4 L1029.2,797.6 L1030.1,793.0 L1030.1,792.6" stroke-dashoffset="0.0"/>
<path d="M1029.9,794.1 L1030.1,793.0 L1030.9,788.6 L1031.7,784.6 L1032.5,780.7 L1033.3,777.0 L1034.1,773.4 L1034.9,769.7 L1035.7,766.0 L1036.5,762.3 L1037.3,758.6 L1038.1,754.8 L1038.9,751.0 L1039.7,747.3 L1040.5,743.5 L1041.3,739.6 L1042.1,735.8 L1042.8,732.0 L1043.6,728.2 L1044.4,724.4 L1045.2,720.6 L1046.0,716.8 L1046.8,712.9 L1047.4,710.3" stroke-dashoffset="0.0"/>
<path d="M1047.1,711.5 L1047.6,709.1 L1048.4,705.3 L1049.2,701.3 L1050.0,697.4 L1050.8,693.2 L1051.6,688.9 L1052.4,684.3 L1053.2,679.7 L1054.0,675.0 L1054.8,670.2 L1055.6,665.4 L1056.4,660.6 L1057.2,655.8 L1058.0,650.9 L1058.8,646.0 L1059.6,640.9 L1060.4,635.8 L1061.2,630.6 L1062.0,625.3 L1062.8,620.0 L1063.6,614.7 L1064.4,609.3 L1064.7,607.7" stroke-dashoffset="0.0"/>
<path d="M1064.4,609.4 L1064.4,609.3 L1065.2,604.0 L1066.0,598.7 L1066.8,593.4 L1067.6,588.2 L1068.4,583.1 L1069.2,578.2 L1070.0,573.6 L1070.8,569.3 L1071.6,565.0 L1072.4,561.2 L1073.2,558.2 L1074.0,555.8 L1074.8,554.1 L1075.6,552.9 L1076.4,552.1 L1077.2,551.7 L1078.0,552.1 L1078.8,552.9 L1079.7,554.0 L1080.5,555.8 L1081.2,558.5" stroke-dashoffset="0.0"/>
<path d="M1081.0,557.6 L1081.3,558.6 L1082.1,561.8 L1082.9,565.3 L1083.8,569.1 L1084.6,572.9 L1085.4,576.8 L1086.2,581.0 L1087.0,585.5 L1087.9,590.2 L1088.7,595.1 L1089.5,599.9 L1090.3,604.7 L1091.2,609.4 L1092.0,614.0 L1092.8,618.4 L1093.6,622.9 L1094.4,627.3 L1095.3,631.6 L1096.1,635.8 L1096.9,640.1 L1097.7,644.2" stroke-dashoffset="0.0"/>
<path d="M1097.5,642.9 L1097.7,644.2 L1098.5,648.4 L1099.4,652.6 L1100.2,656.8 L1101.0,661.1 L1101.8,665.5 L1102.7,669.9 L1103.5,674.3 L1104.3,678.9 L1105.1,683.6 L1105.9,688.3 L1106.8,693.2 L1107.6,698.3 L1108.4,703.5 L1109.2,708.8 L1110.0,714.1 L1110.9,719.5 L1111.7,724.8 L1112.5,730.2 L1113.3,735.5 L1114.2,740.7 L1114.2,740.8" stroke-dashoffset="0.0"/>
<path d="M1113.9,739.2 L1114.2,740.7 L1115.0,745.9 L1115.8,751.0 L1116.6,756.1 L1117.4,761.1 L1118.3,766.2 L1119.1,771.1 L1119.9,776.1 L1120.7,781.0 L1121.6,785.8 L1122.4,790.4 L1123.2,794.9 L1123.9,799.1 L1124.7,803.0 L1125.5,806.7 L1126.3,810.3 L1127.1,813.9 L1127.8,817.6 L1128.6,821.3 L1129.4,825.0 L1130.2,828.7 L1130.6,830.8" stroke-dashoffset="0.0"/>
<path d="M1130.4,829.6 L1131.0,832.4 L1131.8,836.1 L1132.5,839.9 L1133.3,843.7 L1134.1,847.5 L1134.9,851.3 L1135.7,855.1 L1136.5,858.8 L1137.2,862.6 L1138.0,866.3 L1138.8,870.1 L1139.6,873.9 L1140.4,877.7 L1141.1,881.6 L1141.9,885.5 L1142.7,889.4 L1143.5,893.6 L1144.3,898.0 L1145.1,902.5 L1145.8,907.1 L1146.6,911.8 L1147.1,914.7" stroke-dashoffset="0.0"/>
<path d="M1146.8,913.2 L1147.4,916.6 L1148.2,921.3 L1149.0,926.1 L1149.8,930.9 L1150.5,935.7 L1151.3,940.6 L1152.1,945.6 L1152.9,950.7 L1153.7,955.9 L1154.4,961.2 L1155.2,966.4 L1156.0,971.7 L1156.8,977.0 L1157.6,982.3 L1158.4,987.6 L1159.1,992.8 L1159.9,998.0 L1160.7,1003.0 L1161.5,1007.8 L1162.3,1012.3 L1163.1,1016.6 L1163.5,1019.3" stroke-dashoffset="0.0"/>
<path d="M1163.3,1018.0 L1163.8,1020.9 L1164.6,1024.6 L1165.4,1027.5 L1166.2,1029.8 L1167.0,1031.5 L1167.7,1032.7 L1168.5,1033.5 L1169.3,1033.9 L1170.1,1033.5 L1170.9,1032.7 L1171.7,1031.6 L1172.6,1029.8 L1173.4,1026.9 L1174.2,1023.7 L1175.0,1020.1 L1175.8,1016.4 L1176.6,1012.6 L1177.4,1008.6 L1178.2,1004.3 L1179.0,999.8 L1179.9,995.1 L1180.0,994.2" stroke-dashoffset="0.0"/>
<path d="M1179.8,995.6 L1179.9,995.1 L1180.7,990.2 L1181.5,985.3 L1182.3,980.5 L1183.1,975.8 L1183.9,971.2 L1184.7,966.6 L1185.5,962.2 L1186.3,957.7 L1187.2,953.4 L1188.0,949.1 L1188.8,944.9 L1189.6,940.6 L1190.4,936.4 L1191.2,932.2 L1192.0,927.9 L1192.8,923.6 L1193.6,919.2 L1194.5,914.8 L1195.3,910.3 L1196.1,905.7 L1196.5,903.4" stroke-dashoffset="0.0"/>
<path d="M1196.2,904.9 L1196.9,901.0 L1197.7,896.2 L1198.5,891.3 L1199.3,886.2 L1200.1,880.9 L1200.9,875.6 L1201.8,870.2 L1202.6,864.8 L1203.4,859.4 L1204.2,854.0 L1205.0,848.7 L1205.8,843.4 L1206.6,838.2 L1207.4,833.0 L1208.2,827.9 L1209.1,822.8 L1209.9,817.8 L1210.7,812.7 L1211.5,807.8 L1212.3,802.8 L1212.9,799.0" stroke-dashoffset="0.0"/>
<path d="M1212.7,800.5 L1213.1,798.0 L1213.9,793.3 L1214.7,788.7 L1215.5,784.6 L1216.3,780.7 L1217.1,776.9 L1217.9,773.2 L1218.7,769.6 L1219.5,765.9 L1220.3,762.2 L1221.1,758.5 L1221.9,754.7 L1222.7,751.0 L1223.5,747.2 L1224.2,743.5 L1225.0,739.6 L1225.8,735.8 L1226.6,732.0 L1227.4,728.2 L1228.2,724.4 L1229.0,720.6 L1229.4,718.8" stroke-dashoffset="0.0"/>
<path d="M1229.1,720.0 L1229.8,716.8 L1230.6,713.0 L1231.4,709.1 L1232.2,705.3 L1233.0,701.4 L1233.8,697.5 L1234.6,693.5 L1235.4,689.3 L1236.2,684.9 L1236.9,680.3 L1237.7,675.7 L1238.5,670.9 L1239.3,666.2 L1240.1,661.4 L1240.9,656.6 L1241.7,651.8 L1242.5,646.9 L1243.3,641.9 L1244.1,636.9 L1244.9,631.7 L1245.7,626.5 L1245.8,625.3" stroke-dashoffset="0.0"/>
<path d="M1245.6,627.0 L1245.7,626.5 L1246.5,621.2 L1247.3,615.9 L1248.1,610.6 L1248.9,605.2 L1249.6,599.9 L1250.4,594.6 L1251.2,589.3 L1252.0,584.1 L1252.8,579.1 L1253.6,574.2 L1254.4,569.6 L1255.2,565.3 L1256.0,561.0 L1256.8,557.3 L1257.6,554.4 L1258.4,552.0 L1259.2,550.3 L1260.0,549.1 L1260.8,548.3 L1261.6,547.9 L1262.4,548.3 L1262.7,548.6" stroke-dashoffset="0.0"/>
<path d="M1262.4,548.3 L1263.2,549.1 L1264.0,550.2 L1264.8,552.1 L1265.7,554.9 L1266.5,558.2 L1267.3,561.8 L1268.1,565.6 L1269.0,569.4 L1269.8,573.4 L1270.6,577.7 L1271.4,582.2 L1272.3,587.0 L1273.1,591.9 L1273.9,596.8 L1274.7,601.7 L1275.5,606.4 L1276.4,611.1 L1277.2,615.6 L1278.0,620.1 L1278.8,624.1" stroke-dashoffset="0.0"/>
<path d="M1278.5,622.8 L1278.8,624.6 L1279.7,629.0 L1280.5,633.3 L1281.3,637.6 L1282.1,641.8 L1283.0,646.0 L1283.8,650.3 L1284.6,654.6 L1285.4,659.0 L1286.2,663.4 L1287.1,667.8 L1287.9,672.4 L1288.7,677.0 L1289.5,681.7 L1290.4,686.6 L1291.2,691.5 L1292.0,696.7 L1292.8,701.9 L1293.7,707.3 L1294.5,712.7 L1295.3,718.2 L1295.3,718.5" stroke-dashoffset="0.0"/>
<path d="M1295.1,716.9 L1295.3,718.2 L1296.1,723.6 L1296.9,729.0 L1297.8,734.4 L1298.6,739.7 L1299.4,745.0 L1300.2,750.2 L1301.1,755.3 L1301.9,760.5 L1302.7,765.6 L1303.5,770.6 L1304.4,775.6 L1305.2,780.6 L1306.0,785.5 L1306.8,790.2 L1307.6,794.8 L1308.4,799.0 L1309.1,802.9 L1309.9,806.7 L1310.7,810.4 L1311.5,814.0 L1312.0,816.5" stroke-dashoffset="0.0"/>
<path d="M1311.7,815.2 L1312.2,817.8 L1313.0,821.5 L1313.8,825.2 L1314.5,829.0 L1315.3,832.8 L1316.1,836.6 L1316.9,840.4 L1317.6,844.2 L1318.4,848.1 L1319.2,851.9 L1319.9,855.8 L1320.7,859.6 L1321.5,863.4 L1322.3,867.2 L1323.0,871.1 L1323.8,874.9 L1324.6,878.8 L1325.3,882.7 L1326.1,886.6 L1326.9,890.7 L1327.7,894.9 L1328.4,899.3 L1328.5,900.1" stroke-dashoffset="0.0"/>
<path d="M1328.3,898.6 L1328.4,899.3 L1329.2,903.9 L1330.0,908.6 L1330.7,913.4 L1331.5,918.2 L1332.3,923.0 L1333.0,927.9 L1333.8,932.7 L1334.6,937.6 L1335.4,942.6 L1336.1,947.7 L1336.9,952.9 L1337.7,958.2 L1338.4,963.5 L1339.2,968.8 L1340.0,974.2 L1340.8,979.6 L1341.5,984.9 L1342.3,990.3 L1343.1,995.6 L1343.8,1000.8 L1344.6,1005.9 L1345.2,1009.3" stroke-dashoffset="0.0"/>
<path d="M1344.9,1007.7 L1345.4,1010.8 L1346.2,1015.4 L1346.9,1019.8 L1347.7,1024.1 L1348.5,1027.9 L1349.2,1030.8 L1350.0,1033.2 L1350.8,1034.9 L1351.6,1036.1 L1352.3,1036.9 L1353.1,1037.3 L1353.9,1036.9 L1354.7,1036.1 L1355.4,1035.0 L1356.2,1033.1 L1357.0,1030.3 L1357.8,1027.0 L1358.6,1023.4 L1359.3,1019.6 L1360.1,1015.8 L1360.9,1011.8 L1361.7,1007.5 L1361.8,1007.1" stroke-dashoffset="0.0"/>
<path d="M1361.5,1008.5 L1361.7,1007.5 L1362.5,1003.0 L1363.2,998.2 L1364.0,993.3 L1364.8,988.4 L1365.6,983.5 L1366.4,978.8 L1367.1,974.1 L1367.9,969.6 L1368.7,965.1 L1369.5,960.6 L1370.3,956.2 L1371.0,951.9 L1371.8,947.6 L1372.6,943.4 L1373.4,939.2 L1374.1,934.9 L1374.9,930.6 L1375.7,926.2 L1376.5,921.8 L1377.3,917.4 L1378.0,912.8 L1378.3,911.0" stroke-dashoffset="0.0"/>
<path d="M1378.1,912.5 L1378.8,908.2 L1379.6,903.5 L1380.4,898.6 L1381.2,893.7 L1381.9,888.5 L1382.7,883.3 L1383.5,877.9 L1384.3,872.5 L1385.1,867.0 L1385.8,861.6 L1386.6,856.2 L1387.4,850.8 L1388.2,845.5 L1389.0,840.2 L1389.7,835.0 L1390.5,829.9 L1391.2,825.5" stroke-dashoffset="0.0"/>
</g>
</g>
<g stroke="#000" fill="none" shape-rendering="crispEdges">
<path d="M259.2,1185.0H274M259.2,1135.8H274M259.2,1111.3H274M259.2,1086.7H274M259.2,1062.1H274M259.2,1012.9H274M259.2,988.3H274M259.2,963.8H274M259.2,939.2H274M259.2,890.0H274M259.2,865.4H274M259.2,840.8H274M259.2,816.3H274M259.2,767.1H274M259.2,742.5H274M259.2,717.9H274M259.2,693.3H274M259.2,644.2H274M259.2,619.6H274M259.2,595.0H274M259.2,570.4H274M259.2,521.3H274M259.2,496.7H274M259.2,472.1H274M259.2,447.5H274M259.2,398.3H274M259.2,373.8H274M259.2,349.2H274M259.2,324.6H274M259.2,275.4H274M259.2,250.8H274M259.2,226.3H274M259.2,201.7H274" stroke-width="1"/>
<path d="M259.2,300.0H283.2M259.2,422.9H283.2M259.2,545.8H283.2M259.2,668.8H283.2M259.2,791.7H283.2M259.2,914.6H283.2M259.2,1037.5H283.2M259.2,1160.4H283.2" stroke-width="5.8"/>
<path d="M315.9,1209.8V1195M372.6,1209.8V1195M429.3,1209.8V1195M486.0,1209.8V1195M599.4,1209.8V1195M656.1,1209.8V1195M712.8,1209.8V1195M769.5,1209.8V1195M882.9,1209.8V1195M939.6,1209.8V1195M996.3,1209.8V1195M1053.0,1209.8V1195M1166.4,1209.8V1195M1223.1,1209.8V1195M1279.8,1209.8V1195M1336.5,1209.8V1195" stroke-width="1"/>
<path d="M542.7,1209.8V1186M826.2,1209.8V1186M1109.7,1209.8V1186" stroke-width="5.8"/>
<rect x="259.2" y="177.1" width="1134.0" height="1032.7" stroke-width="5.7" stroke-linejoin="miter"/>
</g>
<g class="tk" text-anchor="end">
<text transform="translate(245,197.5) scale(1,1.045)">2.5</text>
<text transform="translate(245,320.4) scale(1,1.045)">2</text>
<text transform="translate(245,443.3) scale(1,1.045)">1.5</text>
<text transform="translate(245,566.2) scale(1,1.045)">1</text>
<text transform="translate(245,689.2) scale(1,1.045)">0.5</text>
<text transform="translate(245,812.1) scale(1,1.045)">0</text>
<text transform="translate(245,935.0) scale(1,1.045)"><tspan font-size="53" dy="2.2">-</tspan><tspan dx="-1.2" dy="-2.2">0.5</tspan></text>
<text transform="translate(245,1057.9) scale(1,1.045)"><tspan font-size="53" dy="2.2">-</tspan><tspan dx="-1.2" dy="-2.2">1</tspan></text>
<text transform="translate(245,1180.8) scale(1,1.045)"><tspan font-size="53" dy="2.2">-</tspan><tspan dx="-1.2" dy="-2.2">1.5</tspan></text>
</g>
<g class="tk" text-anchor="middle">
<text transform="translate(259.2,1262.6) scale(1,1.045)">30</text>
<text transform="translate(542.7,1262.6) scale(1,1.045)">35</text>
<text transform="translate(826.2,1262.6) scale(1,1.045)">40</text>
<text transform="translate(1109.7,1262.6) scale(1,1.045)">45</text>
<text transform="translate(1393.2,1262.6) scale(1,1.045)">50</text>
</g>
<text class="bi" x="825.6" y="1325.8" font-size="68" text-anchor="middle">t</text>
<g transform="translate(138.4,720.0) rotate(-90) scale(0.94,1)"><text class="bi" font-size="69.5" x="0" y="0">C<tspan font-size="41" dx="-0.5" dy="17.9">l</tspan></text></g>
<text x="78.8" y="113.5" font-size="86">(</text><text x="104.9" y="113.8" font-size="92" font-weight="bold">e</text><text x="147.4" y="113.5" font-size="86">)</text>
<g fill="none" stroke-width="6">
<path d="M734.9,242H942.1" stroke="#3030ff"/>
<path d="M734.9,297H942.1" stroke="#cc0000" stroke-dasharray="25 23"/>
<path d="M734.9,352H942.1" stroke="#00cc00" stroke-dasharray="25 9 5 9"/>
<path d="M734.9,407H942.1" stroke="#ff00ff" stroke-dasharray="23 5 5 5 5 5"/>
</g>
<g class="lg">
<text transform="translate(975.85,256.0) scale(0.9636,1)">Newtonian</text>
<text transform="translate(1200.2,256.0) scale(0.995,1)"><tspan font-style="italic">Wi</tspan>=0</text>
<text transform="translate(975.85,311.0) scale(0.9636,1)">FENE-CR</text>
<text transform="translate(1192.6,311.0) scale(0.987,1)"><tspan font-style="italic">Wi</tspan>=0.2</text>
<text transform="translate(975.85,366.0) scale(0.9636,1)">FENE-CR</text>
<text transform="translate(1192.6,366.0) scale(0.987,1)"><tspan font-style="italic">Wi</tspan>=0.6</text>
<text transform="translate(975.85,421.0) scale(0.9636,1)">FENE-CR</text>
<text transform="translate(1192.6,421.0) scale(0.987,1)"><tspan font-style="italic">Wi</tspan>=1.0</text>
</g>
</svg></body></html>
